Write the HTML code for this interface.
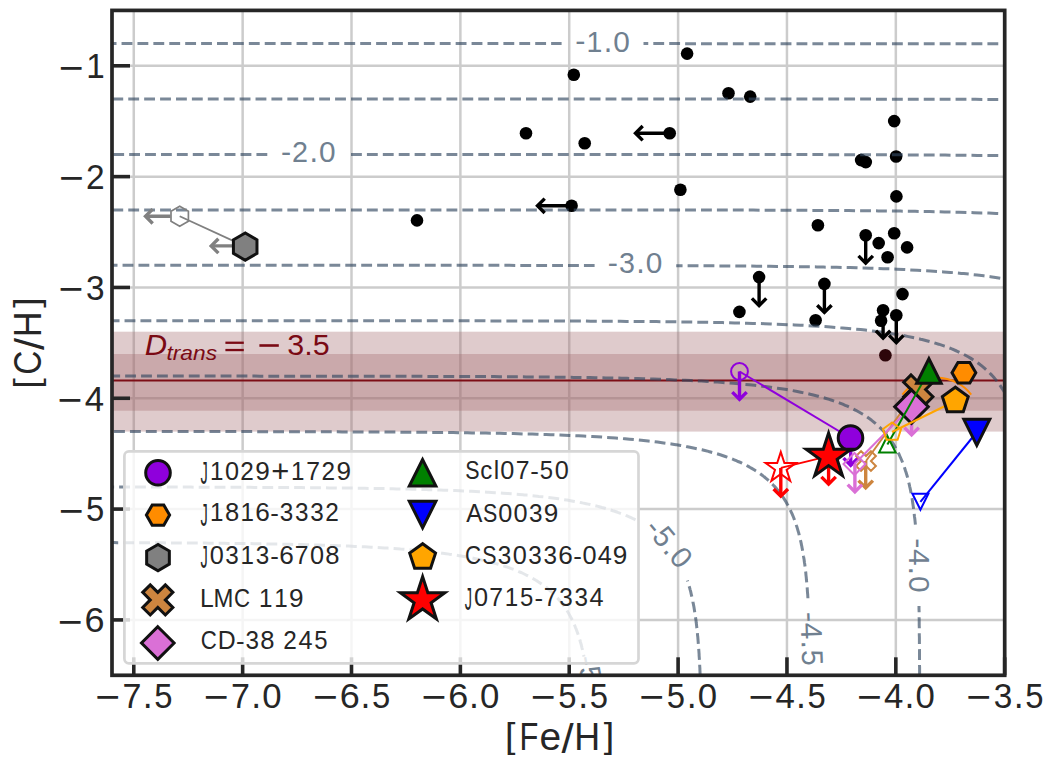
<!DOCTYPE html>
<html><head><meta charset="utf-8"><style>
html,body{margin:0;padding:0;background:#fff;width:1055px;height:757px;overflow:hidden}
text{font-family:"Liberation Sans",sans-serif;font-kerning:none}
</style></head><body>
<svg width="1055" height="757" viewBox="0 0 1055 757" style="display:block">
<rect x="0" y="0" width="1055" height="757" fill="#ffffff"/>
<defs><clipPath id="ax"><rect x="112" y="10.4" width="892.7" height="664.9"/></clipPath></defs>
<g clip-path="url(#ax)">
<line x1="133.77" y1="10.4" x2="133.77" y2="675.3" stroke="#cccccc" stroke-width="2.5"/>
<line x1="242.64" y1="10.4" x2="242.64" y2="675.3" stroke="#cccccc" stroke-width="2.5"/>
<line x1="351.5" y1="10.4" x2="351.5" y2="675.3" stroke="#cccccc" stroke-width="2.5"/>
<line x1="460.37" y1="10.4" x2="460.37" y2="675.3" stroke="#cccccc" stroke-width="2.5"/>
<line x1="569.23" y1="10.4" x2="569.23" y2="675.3" stroke="#cccccc" stroke-width="2.5"/>
<line x1="678.1" y1="10.4" x2="678.1" y2="675.3" stroke="#cccccc" stroke-width="2.5"/>
<line x1="786.96" y1="10.4" x2="786.96" y2="675.3" stroke="#cccccc" stroke-width="2.5"/>
<line x1="895.83" y1="10.4" x2="895.83" y2="675.3" stroke="#cccccc" stroke-width="2.5"/>
<line x1="1004.69" y1="10.4" x2="1004.69" y2="675.3" stroke="#cccccc" stroke-width="2.5"/>
<line x1="112" y1="65.81" x2="1004.7" y2="65.81" stroke="#cccccc" stroke-width="2.5"/>
<line x1="112" y1="176.63" x2="1004.7" y2="176.63" stroke="#cccccc" stroke-width="2.5"/>
<line x1="112" y1="287.45" x2="1004.7" y2="287.45" stroke="#cccccc" stroke-width="2.5"/>
<line x1="112" y1="398.27" x2="1004.7" y2="398.27" stroke="#cccccc" stroke-width="2.5"/>
<line x1="112" y1="509.09" x2="1004.7" y2="509.09" stroke="#cccccc" stroke-width="2.5"/>
<line x1="112" y1="619.91" x2="1004.7" y2="619.91" stroke="#cccccc" stroke-width="2.5"/>
<circle cx="687.1" cy="53.6" r="6.3" fill="#000"/>
<circle cx="573.8" cy="74.7" r="6.3" fill="#000"/>
<circle cx="728.5" cy="93.2" r="6.3" fill="#000"/>
<circle cx="750.2" cy="96.6" r="6.3" fill="#000"/>
<circle cx="526" cy="133.2" r="6.3" fill="#000"/>
<circle cx="584.7" cy="143.3" r="6.3" fill="#000"/>
<circle cx="669.7" cy="133.2" r="6.3" fill="#000"/>
<circle cx="680.4" cy="189.7" r="6.3" fill="#000"/>
<circle cx="571.6" cy="205.8" r="6.3" fill="#000"/>
<circle cx="417" cy="220.4" r="6.3" fill="#000"/>
<circle cx="894.2" cy="121.1" r="6.3" fill="#000"/>
<circle cx="896.1" cy="156.5" r="6.3" fill="#000"/>
<circle cx="861.1" cy="160.1" r="6.3" fill="#000"/>
<circle cx="865.8" cy="162.1" r="6.3" fill="#000"/>
<circle cx="896.4" cy="196.4" r="6.3" fill="#000"/>
<circle cx="817.9" cy="225.2" r="6.3" fill="#000"/>
<circle cx="865.7" cy="235.2" r="6.3" fill="#000"/>
<circle cx="878.7" cy="243.1" r="6.3" fill="#000"/>
<circle cx="894.2" cy="233.2" r="6.3" fill="#000"/>
<circle cx="907.1" cy="247.4" r="6.3" fill="#000"/>
<circle cx="887.6" cy="257.3" r="6.3" fill="#000"/>
<circle cx="824.4" cy="283.9" r="6.3" fill="#000"/>
<circle cx="902.5" cy="294.1" r="6.3" fill="#000"/>
<circle cx="759.1" cy="277.1" r="6.3" fill="#000"/>
<circle cx="739.4" cy="311.9" r="6.3" fill="#000"/>
<circle cx="815.6" cy="320.3" r="6.3" fill="#000"/>
<circle cx="883.1" cy="310.2" r="6.3" fill="#000"/>
<circle cx="881.1" cy="320.8" r="6.3" fill="#000"/>
<circle cx="896.3" cy="315.2" r="6.3" fill="#000"/>
<rect x="112" y="331.7" width="892.7" height="99.9" fill="rgb(164,106,109)" fill-opacity="0.35"/>
<rect x="112" y="354.0" width="892.7" height="56.7" fill="rgb(164,106,109)" fill-opacity="0.35"/>
<circle cx="885.4" cy="355.3" r="6.3" fill="rgb(45,6,10)"/>
<line x1="112" y1="380.5" x2="1004.7" y2="380.5" stroke="rgb(125,14,22)" stroke-width="2.1"/>
<path d="M68.5 43.6 L68.5 43.6 L77.9 43.6 L87.3 43.6 L96.7 43.6 L106.1 43.6 L115.5 43.6 L124.9 43.6 L134.3 43.6 L143.7 43.6 L153.1 43.6 L162.5 43.6 L171.9 43.6 L181.3 43.6 L190.7 43.6 L200.1 43.6 L209.5 43.6 L218.9 43.6 L228.3 43.6 L237.7 43.6 L247.1 43.6 L256.5 43.6 L265.9 43.6 L275.3 43.6 L284.7 43.6 L294.1 43.6 L303.5 43.6 L312.9 43.6 L322.3 43.6 L331.7 43.6 L341.1 43.6 L350.6 43.6 L360.0 43.6 L369.4 43.6 L378.8 43.6 L388.2 43.6 L397.6 43.6 L407.0 43.6 L416.4 43.6 L425.8 43.6 L435.2 43.6 L444.6 43.6 L454.0 43.6 L463.4 43.6 L472.8 43.6 L482.2 43.6 L491.6 43.6 L501.0 43.6 L510.4 43.6 L519.8 43.6 L529.2 43.6 L538.6 43.6 L548.0 43.6 L557.4 43.6 L561.6 43.6" fill="none" stroke="rgb(51,72,97)" stroke-opacity="0.65" stroke-width="3" stroke-dasharray="10.86 5.05" stroke-dashoffset="10.59"/>
<path d="M643.5 43.6 L651.5 43.6 L660.9 43.6 L670.3 43.6 L679.7 43.6 L689.1 43.7 L698.5 43.7 L707.9 43.7 L717.3 43.7 L726.7 43.7 L736.1 43.7 L745.5 43.7 L754.9 43.7 L764.3 43.7 L773.7 43.7 L783.1 43.7 L792.5 43.7 L801.9 43.7 L811.3 43.7 L820.7 43.7 L830.1 43.7 L839.5 43.7 L848.9 43.7 L858.3 43.7 L867.7 43.7 L877.1 43.7 L886.5 43.7 L895.9 43.7 L905.3 43.7 L914.7 43.7 L924.1 43.7 L933.5 43.7 L943.0 43.7 L952.4 43.7 L961.8 43.7 L971.2 43.7 L980.6 43.7 L990.0 43.7 L999.4 43.8 L1008.8 43.8 L1018.2 43.8 L1027.6 43.8 L1037.0 43.8 L1046.4 43.8 L1055.8 43.8 L1065.2 43.9 L1074.6 43.9 L1084.0 43.9 L1093.4 43.9 L1102.8 44.0 L1112.2 44.0 L1121.6 44.1 L1131.0 44.1 L1140.4 44.1 L1149.8 44.2 L1159.2 44.3 L1168.6 44.3 L1178.0 44.4 L1187.4 44.5 L1196.8 44.6 L1206.2 44.7 L1215.6 44.8 L1225.0 44.9 L1234.5 45.0 L1243.9 45.2 L1253.3 45.3 L1262.7 45.5 L1272.1 45.7 L1281.5 45.9 L1290.9 46.1 L1300.3 46.4 L1309.7 46.7 L1319.1 47.0 L1328.5 47.4 L1335.8 47.7 L1337.9 47.8 L1347.3 48.3 L1356.7 48.8 L1366.1 49.4 L1375.5 50.0 L1384.9 50.7 L1394.3 51.5 L1397.4 51.8 L1403.7 52.4 L1413.1 53.5 L1422.5 54.6 L1431.9 55.9 L1431.9 55.9 L1441.3 57.4 L1450.7 59.1 L1455.3 60.0 L1460.1 61.0 L1469.5 63.3 L1472.6 64.1 L1478.9 65.9 L1486.1 68.2 L1488.3 68.9 L1497.1 72.3 L1497.7 72.5 L1506.1 76.3 L1507.1 76.9 L1513.7 80.4 L1516.5 82.1 L1520.2 84.5 L1525.8 88.6 L1526.0 88.7 L1530.6 92.7 L1534.9 96.8 L1535.4 97.3 L1538.6 100.9 L1541.9 104.9 L1544.8 108.9 L1544.9 109.0 L1547.5 113.1 L1549.8 117.2 L1552.0 121.3 L1553.9 125.4 L1554.2 126.1 L1555.6 129.5 L1557.1 133.5 L1558.5 137.6 L1559.8 141.7 L1560.9 145.8 L1562.0 149.9 L1562.9 154.0 L1563.6 157.1 L1563.8 158.1 L1564.5 162.2 L1565.3 166.2 L1565.9 170.3 L1566.5 174.4 L1567.0 178.5 L1567.5 182.6 L1568.0 186.7 L1568.4 190.8 L1568.8 194.8 L1569.1 198.9 L1569.5 203.0 L1569.7 207.1 L1570.0 211.2 L1570.3 215.3 L1570.5 219.4 L1570.7 223.5 L1570.9 227.5 L1571.0 231.6 L1571.2 235.7 L1571.3 239.8 L1571.5 243.9 L1571.6 248.0 L1571.7 252.1 L1571.8 256.1 L1571.9 260.2 L1572.0 264.3 L1572.1 268.4 L1572.2 272.5 L1572.2 276.6 L1572.3 280.7 L1572.3 284.7 L1572.4 288.8 L1572.4 292.9 L1572.5 297.0 L1572.5 301.1 L1572.6 305.2 L1572.6 309.3 L1572.6 313.4 L1572.6 317.4 L1572.7 321.5 L1572.7 325.6 L1572.7 329.7 L1572.7 333.8 L1572.8 337.9 L1572.8 342.0 L1572.8 346.0 L1572.8 350.1 L1572.8 354.2 L1572.8 358.3 L1572.8 362.4 L1572.9 366.5 L1572.9 370.6 L1572.9 374.7 L1572.9 378.7 L1572.9 382.8 L1572.9 386.9 L1572.9 391.0 L1572.9 395.1 L1572.9 399.2 L1572.9 403.3 L1572.9 407.3 L1572.9 411.4 L1572.9 415.5 L1572.9 419.6 L1572.9 423.7 L1572.9 427.8 L1572.9 431.9 L1572.9 435.9 L1572.9 440.0 L1572.9 444.1 L1572.9 448.2 L1572.9 452.3 L1573.0 456.4 L1573.0 460.5 L1573.0 464.6 L1573.0 468.6 L1573.0 472.7 L1573.0 476.8 L1573.0 480.9 L1573.0 485.0 L1573.0 489.1 L1573.0 493.2 L1573.0 497.2 L1573.0 501.3 L1573.0 505.4 L1573.0 509.5 L1573.0 513.6 L1573.0 517.7 L1573.0 521.8 L1573.0 525.9 L1573.0 529.9 L1573.0 534.0 L1573.0 538.1 L1573.0 542.2 L1573.0 546.3 L1573.0 550.4 L1573.0 554.5 L1573.0 558.5 L1573.0 562.6 L1573.0 566.7 L1573.0 570.8 L1573.0 574.9 L1573.0 579.0 L1573.0 583.1 L1573.0 587.1 L1573.0 591.2 L1573.0 595.3 L1573.0 599.4 L1573.0 603.5 L1573.0 607.6 L1573.0 611.7 L1573.0 615.8 L1573.0 619.8 L1573.0 623.9 L1573.0 628.0 L1573.0 632.1 L1573.0 636.2 L1573.0 640.3 L1573.0 644.4 L1573.0 648.4 L1573.0 652.5 L1573.0 656.6 L1573.0 660.7 L1573.0 664.8 L1573.0 668.9 L1573.0 673.0 L1573.0 677.1 L1573.0 681.1 L1573.0 685.2 L1573.0 689.3 L1573.0 693.4 L1573.0 697.5" fill="none" stroke="rgb(51,72,97)" stroke-opacity="0.65" stroke-width="3" stroke-dasharray="10.86 5.05" stroke-dashoffset="6.11"/>
<path d="M68.5 99.1 L68.5 99.1 L77.2 99.1 L85.9 99.1 L94.6 99.1 L103.3 99.1 L112.1 99.1 L120.8 99.1 L129.5 99.1 L138.2 99.1 L147.0 99.1 L155.7 99.1 L164.4 99.1 L173.1 99.1 L181.9 99.1 L190.6 99.1 L199.3 99.1 L208.0 99.1 L216.7 99.1 L225.5 99.1 L234.2 99.1 L242.9 99.1 L251.6 99.1 L260.4 99.1 L269.1 99.1 L277.8 99.1 L286.5 99.1 L295.2 99.1 L304.0 99.1 L312.7 99.1 L321.4 99.1 L330.1 99.1 L338.9 99.1 L347.6 99.1 L356.3 99.1 L365.0 99.1 L373.8 99.1 L382.5 99.1 L391.2 99.1 L399.9 99.1 L408.6 99.1 L417.4 99.1 L426.1 99.1 L434.8 99.1 L443.5 99.1 L452.3 99.1 L461.0 99.1 L469.7 99.1 L478.4 99.1 L487.1 99.1 L495.9 99.1 L504.6 99.1 L513.3 99.1 L522.0 99.1 L530.8 99.1 L539.5 99.1 L548.2 99.1 L556.9 99.1 L565.7 99.1 L574.4 99.1 L583.1 99.1 L591.8 99.1 L600.5 99.1 L609.3 99.1 L618.0 99.1 L626.7 99.1 L635.4 99.1 L644.2 99.1 L652.9 99.1 L661.6 99.1 L670.3 99.1 L679.1 99.1 L687.8 99.1 L696.5 99.1 L705.2 99.1 L713.9 99.1 L722.7 99.1 L731.4 99.1 L740.1 99.1 L748.8 99.1 L757.6 99.1 L766.3 99.1 L775.0 99.1 L783.7 99.1 L792.4 99.1 L801.2 99.1 L809.9 99.1 L818.6 99.1 L827.3 99.1 L836.1 99.1 L844.8 99.1 L853.5 99.1 L862.2 99.1 L871.0 99.1 L879.7 99.2 L888.4 99.2 L897.1 99.2 L905.8 99.2 L914.6 99.2 L923.3 99.2 L932.0 99.2 L940.7 99.2 L949.5 99.3 L958.2 99.3 L966.9 99.3 L975.6 99.3 L984.3 99.4 L993.1 99.4 L1001.8 99.4 L1010.5 99.5 L1019.2 99.5 L1028.0 99.5 L1036.7 99.6 L1045.4 99.6 L1054.1 99.7 L1062.9 99.8 L1071.6 99.8 L1080.3 99.9 L1089.0 100.0 L1097.7 100.1 L1106.5 100.2 L1115.2 100.3 L1123.9 100.4 L1132.6 100.5 L1141.4 100.7 L1150.1 100.8 L1158.8 101.0 L1167.5 101.2 L1176.3 101.4 L1185.0 101.6 L1193.7 101.9 L1202.4 102.2 L1211.1 102.5 L1218.9 102.8 L1219.9 102.8 L1228.6 103.2 L1237.3 103.6 L1246.0 104.1 L1254.8 104.6 L1263.5 105.2 L1272.2 105.8 L1280.8 106.5 L1280.9 106.5 L1289.6 107.3 L1298.4 108.2 L1307.1 109.2 L1315.6 110.3 L1315.8 110.3 L1324.5 111.5 L1333.3 112.9 L1339.3 114.0 L1342.0 114.5 L1350.7 116.3 L1356.9 117.8 L1359.4 118.4 L1368.2 120.7 L1370.8 121.5 L1376.9 123.4 L1382.0 125.2 L1385.6 126.6 L1391.3 129.0 L1394.3 130.4 L1399.1 132.7 L1403.0 134.8 L1405.9 136.5 L1411.7 140.2 L1411.8 140.2 L1416.8 143.9 L1420.5 147.0 L1421.3 147.7 L1425.3 151.4 L1428.8 155.2 L1429.2 155.6 L1431.9 158.9 L1434.8 162.6 L1437.3 166.4 L1437.9 167.4 L1439.6 170.1 L1441.7 173.9 L1443.5 177.6 L1445.2 181.3 L1446.7 184.8 L1446.8 185.1 L1448.2 188.8 L1449.5 192.6 L1450.7 196.3 L1451.7 200.0 L1452.7 203.8 L1453.6 207.5 L1454.4 211.3 L1455.2 215.0 L1455.4 216.0 L1455.9 218.7 L1456.5 222.5 L1457.1 226.2 L1457.7 230.0 L1458.2 233.7 L1458.6 237.4 L1459.0 241.2 L1459.4 244.9 L1459.8 248.7 L1460.1 252.4 L1460.4 256.1 L1460.7 259.9 L1461.0 263.6 L1461.2 267.4 L1461.4 271.1 L1461.6 274.8 L1461.8 278.6 L1462.0 282.3 L1462.1 286.1 L1462.3 289.8 L1462.4 293.5 L1462.6 297.3 L1462.7 301.0 L1462.8 304.8 L1462.9 308.5 L1463.0 312.2 L1463.1 316.0 L1463.1 319.7 L1463.2 323.5 L1463.3 327.2 L1463.3 330.9 L1463.4 334.7 L1463.4 338.4 L1463.5 342.2 L1463.5 345.9 L1463.6 349.6 L1463.6 353.4 L1463.7 357.1 L1463.7 360.9 L1463.7 364.6 L1463.8 368.3 L1463.8 372.1 L1463.8 375.8 L1463.8 379.6 L1463.8 383.3 L1463.9 387.0 L1463.9 390.8 L1463.9 394.5 L1463.9 398.3 L1463.9 402.0 L1463.9 405.8 L1464.0 409.5 L1464.0 413.2 L1464.0 417.0 L1464.0 420.7 L1464.0 424.5 L1464.0 428.2 L1464.0 431.9 L1464.0 435.7 L1464.0 439.4 L1464.0 443.2 L1464.0 446.9 L1464.0 450.6 L1464.0 454.4 L1464.0 458.1 L1464.1 461.9 L1464.1 465.6 L1464.1 469.3 L1464.1 473.1 L1464.1 476.8 L1464.1 480.6 L1464.1 484.3 L1464.1 488.0 L1464.1 491.8 L1464.1 495.5 L1464.1 499.3 L1464.1 503.0 L1464.1 506.7 L1464.1 510.5 L1464.1 514.2 L1464.1 518.0 L1464.1 521.7 L1464.1 525.4 L1464.1 529.2 L1464.1 532.9 L1464.1 536.7 L1464.1 540.4 L1464.1 544.1 L1464.1 547.9 L1464.1 551.6 L1464.1 555.4 L1464.1 559.1 L1464.1 562.8 L1464.1 566.6 L1464.1 570.3 L1464.1 574.1 L1464.1 577.8 L1464.1 581.5 L1464.1 585.3 L1464.1 589.0 L1464.1 592.8 L1464.1 596.5 L1464.1 600.2 L1464.1 604.0 L1464.1 607.7 L1464.1 611.5 L1464.1 615.2 L1464.1 618.9 L1464.1 622.7 L1464.1 626.4 L1464.1 630.2 L1464.1 633.9 L1464.1 637.6 L1464.1 641.4 L1464.1 645.1 L1464.1 648.9 L1464.1 652.6 L1464.1 656.3 L1464.1 660.1 L1464.1 663.8 L1464.1 667.6 L1464.1 671.3 L1464.1 675.0 L1464.1 678.8 L1464.1 682.5 L1464.1 686.3 L1464.1 690.0 L1464.1 693.7 L1464.1 697.5 L1464.1 697.5" fill="none" stroke="rgb(51,72,97)" stroke-opacity="0.65" stroke-width="3" stroke-dasharray="10.86 5.05" stroke-dashoffset="3.89"/>
<path d="M68.5 154.5 L68.5 154.5 L76.5 154.5 L84.5 154.5 L92.6 154.5 L100.6 154.5 L108.7 154.5 L116.7 154.5 L124.8 154.5 L132.8 154.5 L140.8 154.5 L148.9 154.5 L156.9 154.5 L165.0 154.5 L173.0 154.5 L181.0 154.5 L189.1 154.5 L197.1 154.5 L205.2 154.5 L213.2 154.5 L221.3 154.5 L229.3 154.5 L237.3 154.5 L245.4 154.5 L253.4 154.5 L261.5 154.5 L267.4 154.5" fill="none" stroke="rgb(51,72,97)" stroke-opacity="0.65" stroke-width="3" stroke-dasharray="10.86 5.05" stroke-dashoffset="2.99"/>
<path d="M351.0 154.5 L358.0 154.5 L366.0 154.5 L374.1 154.5 L382.1 154.5 L390.1 154.5 L398.2 154.5 L406.2 154.5 L414.3 154.5 L422.3 154.5 L430.4 154.5 L438.4 154.5 L446.4 154.5 L454.5 154.5 L462.5 154.5 L470.6 154.5 L478.6 154.5 L486.7 154.5 L494.7 154.5 L502.7 154.5 L510.8 154.5 L518.8 154.5 L526.9 154.5 L534.9 154.5 L543.0 154.5 L551.0 154.5 L559.0 154.5 L567.1 154.5 L575.1 154.5 L583.2 154.5 L591.2 154.5 L599.3 154.5 L607.3 154.5 L615.3 154.5 L623.4 154.5 L631.4 154.5 L639.5 154.5 L647.5 154.5 L655.5 154.5 L663.6 154.5 L671.6 154.5 L679.7 154.5 L687.7 154.5 L695.8 154.5 L703.8 154.5 L711.8 154.5 L719.9 154.5 L727.9 154.5 L736.0 154.5 L744.0 154.5 L752.1 154.5 L760.1 154.6 L768.1 154.6 L776.2 154.6 L784.2 154.6 L792.3 154.6 L800.3 154.6 L808.4 154.6 L816.4 154.6 L824.4 154.6 L832.5 154.7 L840.5 154.7 L848.6 154.7 L856.6 154.7 L864.7 154.7 L872.7 154.8 L880.7 154.8 L888.8 154.8 L896.8 154.8 L904.9 154.9 L912.9 154.9 L920.9 155.0 L929.0 155.0 L937.0 155.0 L945.1 155.1 L953.1 155.2 L961.2 155.2 L969.2 155.3 L977.2 155.4 L985.3 155.4 L993.3 155.5 L1001.4 155.6 L1009.4 155.7 L1017.5 155.8 L1025.5 156.0 L1033.5 156.1 L1041.6 156.2 L1049.6 156.4 L1057.7 156.6 L1065.7 156.8 L1073.8 157.0 L1081.8 157.2 L1089.8 157.5 L1097.9 157.7 L1101.2 157.9 L1105.9 158.0 L1114.0 158.4 L1122.0 158.7 L1130.1 159.1 L1138.1 159.6 L1146.1 160.1 L1154.2 160.6 L1162.2 161.2 L1163.4 161.3 L1170.3 161.8 L1178.3 162.5 L1186.3 163.3 L1194.4 164.2 L1198.5 164.6 L1202.4 165.1 L1210.5 166.2 L1218.5 167.4 L1222.5 168.0 L1226.6 168.7 L1234.6 170.2 L1240.5 171.4 L1242.6 171.9 L1250.7 173.8 L1254.6 174.8 L1258.7 176.0 L1266.1 178.2 L1266.8 178.4 L1274.8 181.3 L1275.7 181.6 L1282.9 184.6 L1283.8 185.0 L1290.8 188.4 L1290.9 188.4 L1296.9 191.8 L1298.9 193.0 L1302.2 195.2 L1307.0 198.6 L1307.0 198.6 L1311.2 202.0 L1314.9 205.4 L1315.0 205.5 L1318.3 208.8 L1321.3 212.2 L1323.1 214.3 L1324.0 215.6 L1326.5 218.9 L1328.8 222.3 L1330.8 225.7 L1331.1 226.2 L1332.7 229.1 L1334.4 232.5 L1336.0 235.9 L1337.4 239.3 L1338.8 242.7 L1339.2 243.8 L1340.0 246.1 L1341.1 249.5 L1342.1 252.9 L1343.1 256.3 L1344.0 259.7 L1344.8 263.1 L1345.5 266.5 L1346.2 269.9 L1346.9 273.3 L1347.2 275.1 L1347.5 276.6 L1348.0 280.0 L1348.5 283.4 L1349.0 286.8 L1349.4 290.2 L1349.8 293.6 L1350.2 297.0 L1350.6 300.4 L1350.9 303.8 L1351.2 307.2 L1351.5 310.6 L1351.7 314.0 L1352.0 317.4 L1352.2 320.8 L1352.4 324.2 L1352.6 327.6 L1352.8 330.9 L1353.0 334.3 L1353.1 337.7 L1353.3 341.1 L1353.4 344.5 L1353.5 347.9 L1353.6 351.3 L1353.8 354.7 L1353.9 358.1 L1353.9 361.5 L1354.0 364.9 L1354.1 368.3 L1354.2 371.7 L1354.3 375.1 L1354.3 378.5 L1354.4 381.9 L1354.5 385.2 L1354.5 388.6 L1354.6 392.0 L1354.6 395.4 L1354.6 398.8 L1354.7 402.2 L1354.7 405.6 L1354.8 409.0 L1354.8 412.4 L1354.8 415.8 L1354.9 419.2 L1354.9 422.6 L1354.9 426.0 L1354.9 429.4 L1354.9 432.8 L1355.0 436.2 L1355.0 439.6 L1355.0 442.9 L1355.0 446.3 L1355.0 449.7 L1355.0 453.1 L1355.1 456.5 L1355.1 459.9 L1355.1 463.3 L1355.1 466.7 L1355.1 470.1 L1355.1 473.5 L1355.1 476.9 L1355.1 480.3 L1355.1 483.7 L1355.1 487.1 L1355.2 490.5 L1355.2 493.9 L1355.2 497.2 L1355.2 500.6 L1355.2 504.0 L1355.2 507.4 L1355.2 510.8 L1355.2 514.2 L1355.2 517.6 L1355.2 521.0 L1355.2 524.4 L1355.2 527.8 L1355.2 531.2 L1355.2 534.6 L1355.2 538.0 L1355.2 541.4 L1355.2 544.8 L1355.2 548.2 L1355.2 551.5 L1355.2 554.9 L1355.2 558.3 L1355.2 561.7 L1355.2 565.1 L1355.2 568.5 L1355.2 571.9 L1355.2 575.3 L1355.2 578.7 L1355.2 582.1 L1355.2 585.5 L1355.2 588.9 L1355.2 592.3 L1355.2 595.7 L1355.2 599.1 L1355.2 602.5 L1355.2 605.8 L1355.2 609.2 L1355.2 612.6 L1355.2 616.0 L1355.2 619.4 L1355.2 622.8 L1355.2 626.2 L1355.2 629.6 L1355.2 633.0 L1355.2 636.4 L1355.2 639.8 L1355.2 643.2 L1355.2 646.6 L1355.2 650.0 L1355.2 653.4 L1355.2 656.8 L1355.2 660.2 L1355.2 663.5 L1355.2 666.9 L1355.2 670.3 L1355.2 673.7 L1355.2 677.1 L1355.2 680.5 L1355.2 683.9 L1355.2 687.3 L1355.2 690.7 L1355.2 694.1 L1355.2 697.5" fill="none" stroke="rgb(51,72,97)" stroke-opacity="0.65" stroke-width="3" stroke-dasharray="10.86 5.05" stroke-dashoffset="15.91"/>
<path d="M68.5 209.9 L68.5 209.9 L75.8 209.9 L83.2 209.9 L90.5 209.9 L97.9 209.9 L105.3 209.9 L112.6 209.9 L120.0 209.9 L127.3 209.9 L134.7 209.9 L142.1 209.9 L149.4 209.9 L156.8 209.9 L164.2 209.9 L171.5 209.9 L178.9 209.9 L186.2 209.9 L193.6 209.9 L201.0 209.9 L208.3 209.9 L215.7 209.9 L223.1 209.9 L230.4 209.9 L237.8 209.9 L245.1 209.9 L252.5 209.9 L259.9 209.9 L267.2 209.9 L274.6 209.9 L282.0 209.9 L289.3 209.9 L296.7 209.9 L304.0 209.9 L311.4 209.9 L318.8 209.9 L326.1 209.9 L333.5 209.9 L340.8 209.9 L348.2 209.9 L355.6 209.9 L362.9 209.9 L370.3 209.9 L377.7 209.9 L385.0 209.9 L392.4 209.9 L399.7 209.9 L407.1 209.9 L414.5 209.9 L421.8 209.9 L429.2 209.9 L436.6 209.9 L443.9 209.9 L451.3 209.9 L458.6 209.9 L466.0 209.9 L473.4 209.9 L480.7 209.9 L488.1 209.9 L495.4 209.9 L502.8 209.9 L510.2 209.9 L517.5 209.9 L524.9 209.9 L532.3 209.9 L539.6 209.9 L547.0 209.9 L554.3 209.9 L561.7 209.9 L569.1 209.9 L576.4 209.9 L583.8 209.9 L591.2 209.9 L598.5 209.9 L605.9 209.9 L613.2 209.9 L620.6 209.9 L628.0 209.9 L635.3 210.0 L642.7 210.0 L650.0 210.0 L657.4 210.0 L664.8 210.0 L672.1 210.0 L679.5 210.0 L686.9 210.0 L694.2 210.0 L701.6 210.0 L708.9 210.0 L716.3 210.1 L723.7 210.1 L731.0 210.1 L738.4 210.1 L745.8 210.1 L753.1 210.1 L760.5 210.2 L767.8 210.2 L775.2 210.2 L782.6 210.2 L789.9 210.3 L797.3 210.3 L804.7 210.3 L812.0 210.4 L819.4 210.4 L826.7 210.4 L834.1 210.5 L841.5 210.5 L848.8 210.6 L856.2 210.7 L863.5 210.7 L870.9 210.8 L878.3 210.9 L885.6 210.9 L893.0 211.0 L900.4 211.1 L907.7 211.2 L915.1 211.3 L922.4 211.5 L929.8 211.6 L937.2 211.7 L944.5 211.9 L951.9 212.1 L959.3 212.2 L966.6 212.4 L974.0 212.7 L981.3 212.9 L982.5 212.9 L988.7 213.1 L996.1 213.4 L1003.4 213.7 L1010.8 214.0 L1018.1 214.4 L1025.5 214.8 L1032.9 215.2 L1040.2 215.6 L1045.1 216.0 L1047.6 216.1 L1055.0 216.7 L1062.3 217.3 L1069.7 217.9 L1077.0 218.7 L1080.5 219.0 L1084.4 219.4 L1091.8 220.3 L1099.1 221.3 L1104.8 222.1 L1106.5 222.3 L1113.9 223.5 L1121.2 224.8 L1123.0 225.1 L1128.6 226.2 L1135.9 227.8 L1137.5 228.2 L1143.3 229.6 L1149.3 231.2 L1150.7 231.6 L1158.0 233.9 L1159.1 234.3 L1165.4 236.5 L1167.5 237.3 L1172.7 239.4 L1174.8 240.4 L1180.1 242.9 L1181.1 243.4 L1186.7 246.4 L1187.5 246.9 L1191.7 249.5 L1194.8 251.6 L1196.1 252.5 L1200.1 255.6 L1202.2 257.3 L1203.7 258.6 L1207.0 261.7 L1209.6 264.3 L1209.9 264.7 L1212.6 267.8 L1215.1 270.8 L1216.9 273.3 L1217.3 273.9 L1219.4 276.9 L1221.3 280.0 L1223.0 283.0 L1224.3 285.4 L1224.6 286.1 L1226.1 289.1 L1227.5 292.2 L1228.8 295.2 L1230.0 298.3 L1231.0 301.3 L1231.6 303.1 L1232.1 304.4 L1233.0 307.4 L1233.9 310.4 L1234.7 313.5 L1235.5 316.5 L1236.2 319.6 L1236.8 322.6 L1237.4 325.7 L1238.0 328.7 L1238.5 331.8 L1239.0 334.6 L1239.0 334.8 L1239.5 337.9 L1239.9 340.9 L1240.4 344.0 L1240.7 347.0 L1241.1 350.1 L1241.4 353.1 L1241.7 356.2 L1242.0 359.2 L1242.3 362.3 L1242.6 365.3 L1242.8 368.3 L1243.0 371.4 L1243.2 374.4 L1243.4 377.5 L1243.6 380.5 L1243.8 383.6 L1243.9 386.6 L1244.1 389.7 L1244.2 392.7 L1244.4 395.8 L1244.5 398.8 L1244.6 401.9 L1244.7 404.9 L1244.8 408.0 L1244.9 411.0 L1245.0 414.1 L1245.1 417.1 L1245.2 420.2 L1245.2 423.2 L1245.3 426.3 L1245.4 429.3 L1245.4 432.3 L1245.5 435.4 L1245.6 438.4 L1245.6 441.5 L1245.6 444.5 L1245.7 447.6 L1245.7 450.6 L1245.8 453.7 L1245.8 456.7 L1245.8 459.8 L1245.9 462.8 L1245.9 465.9 L1245.9 468.9 L1246.0 472.0 L1246.0 475.0 L1246.0 478.1 L1246.0 481.1 L1246.1 484.2 L1246.1 487.2 L1246.1 490.3 L1246.1 493.3 L1246.1 496.3 L1246.1 499.4 L1246.2 502.4 L1246.2 505.5 L1246.2 508.5 L1246.2 511.6 L1246.2 514.6 L1246.2 517.7 L1246.2 520.7 L1246.2 523.8 L1246.2 526.8 L1246.3 529.9 L1246.3 532.9 L1246.3 536.0 L1246.3 539.0 L1246.3 542.1 L1246.3 545.1 L1246.3 548.2 L1246.3 551.2 L1246.3 554.2 L1246.3 557.3 L1246.3 560.3 L1246.3 563.4 L1246.3 566.4 L1246.3 569.5 L1246.3 572.5 L1246.3 575.6 L1246.3 578.6 L1246.3 581.7 L1246.3 584.7 L1246.3 587.8 L1246.3 590.8 L1246.3 593.9 L1246.3 596.9 L1246.3 600.0 L1246.3 603.0 L1246.3 606.1 L1246.3 609.1 L1246.4 612.2 L1246.4 615.2 L1246.4 618.2 L1246.4 621.3 L1246.4 624.3 L1246.4 627.4 L1246.4 630.4 L1246.4 633.5 L1246.4 636.5 L1246.4 639.6 L1246.4 642.6 L1246.4 645.7 L1246.4 648.7 L1246.4 651.8 L1246.4 654.8 L1246.4 657.9 L1246.4 660.9 L1246.4 664.0 L1246.4 667.0 L1246.4 670.1 L1246.4 673.1 L1246.4 676.2 L1246.4 679.2 L1246.4 682.2 L1246.4 685.3 L1246.4 688.3 L1246.4 691.4 L1246.4 694.4 L1246.4 697.5" fill="none" stroke="rgb(51,72,97)" stroke-opacity="0.65" stroke-width="3" stroke-dasharray="10.86 5.05" stroke-dashoffset="3.89"/>
<path d="M68.5 265.3 L68.5 265.3 L75.1 265.3 L81.8 265.3 L88.5 265.3 L95.2 265.3 L101.9 265.3 L108.5 265.3 L115.2 265.3 L121.9 265.3 L128.6 265.3 L135.3 265.3 L142.0 265.3 L148.6 265.3 L155.3 265.3 L162.0 265.3 L168.7 265.3 L175.4 265.3 L182.0 265.3 L188.7 265.3 L195.4 265.3 L202.1 265.3 L208.8 265.3 L215.4 265.3 L222.1 265.3 L228.8 265.3 L235.5 265.3 L242.2 265.3 L248.9 265.3 L255.5 265.3 L262.2 265.3 L268.9 265.3 L275.6 265.3 L282.3 265.3 L288.9 265.3 L295.6 265.3 L302.3 265.3 L309.0 265.3 L315.7 265.3 L322.4 265.3 L329.0 265.3 L335.7 265.3 L342.4 265.3 L349.1 265.3 L355.8 265.3 L362.4 265.3 L369.1 265.3 L375.8 265.3 L382.5 265.3 L389.2 265.3 L395.8 265.3 L402.5 265.3 L409.2 265.3 L415.9 265.3 L422.6 265.3 L429.3 265.3 L435.9 265.3 L442.6 265.3 L449.3 265.3 L456.0 265.3 L462.7 265.3 L469.3 265.3 L476.0 265.3 L482.7 265.3 L489.4 265.3 L496.1 265.3 L502.8 265.3 L509.4 265.3 L516.1 265.4 L522.8 265.4 L529.5 265.4 L536.2 265.4 L542.8 265.4 L549.5 265.4 L556.2 265.4 L562.9 265.4 L569.6 265.4 L576.2 265.4 L582.9 265.4 L589.6 265.4 L594.6 265.4" fill="none" stroke="rgb(51,72,97)" stroke-opacity="0.65" stroke-width="3" stroke-dasharray="10.86 5.05" stroke-dashoffset="9.59"/>
<path d="M676.2 265.7 L676.5 265.7 L683.2 265.7 L689.8 265.7 L696.5 265.7 L703.2 265.8 L709.9 265.8 L716.6 265.9 L723.2 265.9 L729.9 265.9 L736.6 266.0 L743.3 266.0 L750.0 266.1 L756.7 266.2 L763.3 266.2 L770.0 266.3 L776.7 266.4 L783.4 266.4 L790.1 266.5 L796.7 266.6 L803.4 266.7 L810.1 266.8 L816.8 266.9 L823.5 267.1 L830.1 267.2 L836.8 267.3 L843.5 267.5 L850.2 267.6 L856.9 267.8 L862.5 268.0 L863.6 268.0 L870.2 268.2 L876.9 268.4 L883.6 268.7 L890.3 268.9 L897.0 269.2 L903.6 269.5 L910.3 269.9 L917.0 270.2 L923.7 270.6 L925.5 270.7 L930.4 271.0 L937.1 271.4 L943.7 271.9 L950.4 272.4 L957.1 273.0 L961.2 273.4 L963.8 273.6 L970.5 274.3 L977.1 275.0 L983.8 275.8 L985.8 276.1 L990.5 276.7 L997.2 277.7 L1003.9 278.7 L1004.4 278.8 L1010.5 279.9 L1017.2 281.1 L1019.1 281.5 L1023.9 282.5 L1030.6 284.0 L1031.2 284.2 L1037.3 285.8 L1041.4 286.9 L1044.0 287.7 L1050.1 289.6 L1050.6 289.8 L1057.3 292.2 L1057.6 292.3 L1064.0 294.9 L1064.2 295.0 L1070.1 297.7 L1070.7 298.0 L1075.3 300.4 L1077.4 301.6 L1080.0 303.1 L1084.0 305.7 L1084.2 305.8 L1088.0 308.5 L1090.7 310.6 L1091.5 311.2 L1094.7 313.9 L1097.4 316.4 L1097.6 316.6 L1100.3 319.3 L1102.7 322.0 L1104.1 323.6 L1105.0 324.7 L1107.1 327.4 L1109.0 330.1 L1110.8 332.7 L1110.8 332.8 L1112.5 335.5 L1114.0 338.2 L1115.5 340.9 L1116.8 343.6 L1117.5 344.9 L1118.1 346.3 L1119.3 349.0 L1120.3 351.7 L1121.4 354.4 L1122.3 357.1 L1123.2 359.8 L1124.1 362.5 L1124.1 362.8 L1124.8 365.2 L1125.6 367.9 L1126.3 370.6 L1126.9 373.3 L1127.5 376.0 L1128.1 378.7 L1128.6 381.4 L1129.1 384.1 L1129.6 386.8 L1130.1 389.5 L1130.5 392.2 L1130.8 394.4 L1130.9 394.9 L1131.3 397.6 L1131.6 400.3 L1131.9 403.0 L1132.3 405.8 L1132.6 408.5 L1132.8 411.2 L1133.1 413.9 L1133.3 416.6 L1133.6 419.3 L1133.8 422.0 L1134.0 424.7 L1134.2 427.4 L1134.4 430.1 L1134.5 432.8 L1134.7 435.5 L1134.9 438.2 L1135.0 440.9 L1135.2 443.6 L1135.3 446.3 L1135.4 449.0 L1135.5 451.7 L1135.6 454.4 L1135.7 457.1 L1135.8 459.8 L1135.9 462.5 L1136.0 465.2 L1136.1 467.9 L1136.2 470.6 L1136.2 473.3 L1136.3 476.0 L1136.4 478.7 L1136.4 481.4 L1136.5 484.1 L1136.6 486.8 L1136.6 489.5 L1136.7 492.2 L1136.7 494.9 L1136.7 497.6 L1136.8 500.3 L1136.8 503.0 L1136.9 505.7 L1136.9 508.4 L1136.9 511.1 L1137.0 513.8 L1137.0 516.5 L1137.0 519.2 L1137.1 521.9 L1137.1 524.6 L1137.1 527.3 L1137.1 530.0 L1137.1 532.7 L1137.2 535.4 L1137.2 538.1 L1137.2 540.8 L1137.2 543.5 L1137.2 546.2 L1137.2 548.9 L1137.3 551.6 L1137.3 554.3 L1137.3 557.0 L1137.3 559.7 L1137.3 562.4 L1137.3 565.1 L1137.3 567.8 L1137.3 570.5 L1137.4 573.2 L1137.4 575.9 L1137.4 578.6 L1137.4 581.3 L1137.4 584.0 L1137.4 586.7 L1137.4 589.4 L1137.4 592.1 L1137.4 594.8 L1137.4 597.5 L1137.4 600.2 L1137.4 602.9 L1137.4 605.6 L1137.4 608.3 L1137.4 611.0 L1137.4 613.7 L1137.4 616.4 L1137.4 619.1 L1137.5 621.8 L1137.5 624.6 L1137.5 627.3 L1137.5 630.0 L1137.5 632.7 L1137.5 635.4 L1137.5 638.1 L1137.5 640.8 L1137.5 643.5 L1137.5 646.2 L1137.5 648.9 L1137.5 651.6 L1137.5 654.3 L1137.5 657.0 L1137.5 659.7 L1137.5 662.4 L1137.5 665.1 L1137.5 667.8 L1137.5 670.5 L1137.5 673.2 L1137.5 675.9 L1137.5 678.6 L1137.5 681.3 L1137.5 684.0 L1137.5 686.7 L1137.5 689.4 L1137.5 692.1 L1137.5 694.8 L1137.5 697.5 L1137.5 697.5" fill="none" stroke="rgb(51,72,97)" stroke-opacity="0.65" stroke-width="3" stroke-dasharray="10.86 5.05" stroke-dashoffset="4.51"/>
<path d="M68.5 320.7 L68.5 320.7 L74.5 320.7 L80.5 320.7 L86.5 320.7 L92.5 320.7 L98.5 320.7 L104.5 320.7 L110.5 320.7 L116.5 320.7 L122.5 320.7 L128.5 320.7 L134.5 320.7 L140.5 320.7 L146.5 320.7 L152.5 320.7 L158.5 320.7 L164.5 320.7 L170.5 320.7 L176.5 320.7 L182.5 320.7 L188.5 320.7 L194.5 320.7 L200.5 320.7 L206.5 320.7 L212.5 320.7 L218.5 320.7 L224.5 320.7 L230.5 320.7 L236.5 320.7 L242.5 320.7 L248.5 320.7 L254.5 320.7 L260.5 320.7 L266.5 320.7 L272.5 320.7 L278.5 320.7 L284.5 320.7 L290.5 320.7 L296.5 320.7 L302.5 320.7 L308.5 320.7 L314.5 320.7 L320.5 320.7 L326.5 320.7 L332.5 320.7 L338.5 320.7 L344.5 320.7 L350.5 320.7 L356.5 320.7 L362.5 320.7 L368.5 320.7 L374.5 320.7 L380.5 320.7 L386.5 320.8 L392.5 320.8 L398.5 320.8 L404.5 320.8 L410.5 320.8 L416.5 320.8 L422.5 320.8 L428.5 320.8 L434.5 320.8 L440.5 320.8 L446.5 320.8 L452.5 320.8 L458.5 320.8 L464.5 320.8 L470.5 320.8 L476.5 320.8 L482.5 320.8 L488.5 320.9 L494.5 320.9 L500.5 320.9 L506.5 320.9 L512.5 320.9 L518.5 320.9 L524.5 320.9 L530.5 320.9 L536.5 321.0 L542.5 321.0 L548.5 321.0 L554.5 321.0 L560.5 321.0 L566.5 321.1 L572.5 321.1 L578.5 321.1 L584.5 321.1 L590.5 321.2 L596.5 321.2 L602.5 321.2 L608.5 321.3 L614.5 321.3 L620.5 321.3 L626.5 321.4 L632.5 321.4 L638.5 321.5 L644.5 321.5 L650.5 321.6 L656.5 321.6 L662.5 321.7 L668.5 321.8 L674.5 321.8 L680.6 321.9 L686.6 322.0 L692.6 322.1 L698.6 322.2 L704.6 322.3 L710.6 322.4 L716.6 322.5 L722.6 322.6 L728.6 322.8 L734.6 322.9 L740.6 323.0 L741.1 323.1 L746.6 323.2 L752.6 323.4 L758.6 323.5 L764.6 323.7 L770.6 323.9 L776.6 324.2 L782.6 324.4 L788.6 324.7 L794.6 324.9 L800.6 325.2 L804.3 325.4 L806.6 325.5 L812.6 325.9 L818.6 326.2 L824.6 326.6 L830.6 327.0 L836.6 327.5 L840.4 327.8 L842.6 327.9 L848.6 328.5 L854.6 329.0 L860.6 329.6 L865.3 330.1 L866.6 330.3 L872.6 331.0 L878.6 331.7 L884.2 332.5 L884.6 332.5 L890.6 333.4 L896.6 334.4 L899.2 334.8 L902.6 335.4 L908.6 336.6 L911.6 337.2 L914.6 337.8 L920.6 339.2 L922.1 339.5 L926.6 340.7 L931.0 341.9 L932.6 342.3 L938.6 344.2 L938.9 344.2 L944.6 346.2 L945.8 346.6 L950.6 348.4 L951.9 349.0 L956.6 351.0 L957.4 351.3 L962.3 353.7 L962.6 353.8 L966.8 356.0 L968.6 357.0 L970.9 358.4 L974.6 360.7 L974.6 360.7 L978.0 363.1 L980.6 365.0 L981.2 365.4 L984.1 367.8 L986.6 370.0 L986.8 370.2 L989.2 372.5 L991.5 374.9 L992.6 376.0 L993.7 377.2 L995.7 379.6 L997.6 381.9 L998.6 383.3 L999.3 384.3 L1000.9 386.6 L1002.4 389.0 L1003.9 391.3 L1004.6 392.6 L1005.2 393.7 L1006.5 396.1 L1007.7 398.4 L1008.8 400.8 L1009.8 403.1 L1010.6 404.9 L1010.8 405.5 L1011.8 407.8 L1012.6 410.2 L1013.5 412.5 L1014.2 414.9 L1015.0 417.2 L1015.7 419.6 L1016.3 422.0 L1016.6 422.9 L1017.0 424.3 L1017.6 426.7 L1018.1 429.0 L1018.7 431.4 L1019.2 433.7 L1019.6 436.1 L1020.1 438.4 L1020.5 440.8 L1020.9 443.2 L1021.3 445.5 L1021.7 447.9 L1022.0 450.2 L1022.3 452.6 L1022.6 454.6 L1022.6 454.9 L1022.9 457.3 L1023.2 459.6 L1023.5 462.0 L1023.7 464.3 L1024.0 466.7 L1024.2 469.1 L1024.4 471.4 L1024.6 473.8 L1024.8 476.1 L1025.0 478.5 L1025.2 480.8 L1025.4 483.2 L1025.5 485.5 L1025.7 487.9 L1025.8 490.3 L1025.9 492.6 L1026.1 495.0 L1026.2 497.3 L1026.3 499.7 L1026.4 502.0 L1026.5 504.4 L1026.6 506.7 L1026.7 509.1 L1026.8 511.4 L1026.9 513.8 L1027.0 516.2 L1027.1 518.5 L1027.2 520.9 L1027.2 523.2 L1027.3 525.6 L1027.4 527.9 L1027.4 530.3 L1027.5 532.6 L1027.5 535.0 L1027.6 537.3 L1027.6 539.7 L1027.7 542.1 L1027.7 544.4 L1027.8 546.8 L1027.8 549.1 L1027.9 551.5 L1027.9 553.8 L1027.9 556.2 L1028.0 558.5 L1028.0 560.9 L1028.0 563.3 L1028.1 565.6 L1028.1 568.0 L1028.1 570.3 L1028.1 572.7 L1028.2 575.0 L1028.2 577.4 L1028.2 579.7 L1028.2 582.1 L1028.2 584.4 L1028.3 586.8 L1028.3 589.2 L1028.3 591.5 L1028.3 593.9 L1028.3 596.2 L1028.3 598.6 L1028.4 600.9 L1028.4 603.3 L1028.4 605.6 L1028.4 608.0 L1028.4 610.4 L1028.4 612.7 L1028.4 615.1 L1028.4 617.4 L1028.5 619.8 L1028.5 622.1 L1028.5 624.5 L1028.5 626.8 L1028.5 629.2 L1028.5 631.5 L1028.5 633.9 L1028.5 636.3 L1028.5 638.6 L1028.5 641.0 L1028.5 643.3 L1028.5 645.7 L1028.5 648.0 L1028.5 650.4 L1028.5 652.7 L1028.6 655.1 L1028.6 657.5 L1028.6 659.8 L1028.6 662.2 L1028.6 664.5 L1028.6 666.9 L1028.6 669.2 L1028.6 671.6 L1028.6 673.9 L1028.6 676.3 L1028.6 678.6 L1028.6 681.0 L1028.6 683.4 L1028.6 685.7 L1028.6 688.1 L1028.6 690.4 L1028.6 692.8 L1028.6 695.1 L1028.6 697.5" fill="none" stroke="rgb(51,72,97)" stroke-opacity="0.65" stroke-width="3" stroke-dasharray="10.86 5.05" stroke-dashoffset="7.59"/>
<path d="M68.5 376.1 L68.5 376.1 L73.8 376.1 L79.1 376.1 L84.4 376.1 L89.7 376.1 L95.1 376.1 L100.4 376.1 L105.7 376.1 L111.0 376.1 L116.3 376.1 L121.7 376.1 L127.0 376.1 L132.3 376.1 L137.6 376.1 L142.9 376.1 L148.3 376.1 L153.6 376.1 L158.9 376.1 L164.2 376.1 L169.5 376.1 L174.9 376.1 L180.2 376.1 L185.5 376.1 L190.8 376.1 L196.1 376.1 L201.5 376.1 L206.8 376.1 L212.1 376.1 L217.4 376.1 L222.7 376.1 L228.1 376.1 L233.4 376.1 L238.7 376.1 L244.0 376.1 L249.3 376.1 L254.7 376.1 L260.0 376.2 L265.3 376.2 L270.6 376.2 L275.9 376.2 L281.3 376.2 L286.6 376.2 L291.9 376.2 L297.2 376.2 L302.5 376.2 L307.9 376.2 L313.2 376.2 L318.5 376.2 L323.8 376.2 L329.1 376.2 L334.5 376.2 L339.8 376.2 L345.1 376.2 L350.4 376.2 L355.7 376.2 L361.1 376.2 L366.4 376.2 L371.7 376.3 L377.0 376.3 L382.3 376.3 L387.7 376.3 L393.0 376.3 L398.3 376.3 L403.6 376.3 L408.9 376.3 L414.3 376.3 L419.6 376.3 L424.9 376.4 L430.2 376.4 L435.5 376.4 L440.9 376.4 L446.2 376.4 L451.5 376.4 L456.8 376.5 L462.1 376.5 L467.5 376.5 L472.8 376.5 L478.1 376.6 L483.4 376.6 L488.7 376.6 L494.1 376.6 L499.4 376.7 L504.7 376.7 L510.0 376.7 L515.3 376.8 L520.7 376.8 L526.0 376.9 L531.3 376.9 L536.6 377.0 L541.9 377.0 L547.3 377.1 L552.6 377.1 L557.9 377.2 L563.2 377.2 L568.5 377.3 L573.9 377.4 L579.2 377.4 L584.5 377.5 L589.8 377.6 L595.1 377.7 L600.5 377.8 L605.8 377.9 L611.1 378.0 L616.4 378.1 L617.7 378.1 L621.7 378.2 L627.1 378.3 L632.4 378.5 L637.7 378.6 L643.0 378.8 L648.3 378.9 L653.7 379.1 L659.0 379.3 L664.3 379.4 L669.6 379.6 L674.9 379.9 L680.3 380.1 L681.2 380.1 L685.6 380.3 L690.9 380.6 L696.2 380.9 L701.5 381.1 L706.9 381.5 L712.2 381.8 L717.5 382.1 L717.5 382.1 L722.8 382.5 L728.1 382.9 L733.5 383.3 L738.8 383.8 L742.8 384.1 L744.1 384.3 L749.4 384.8 L754.7 385.3 L760.1 385.9 L762.0 386.2 L765.4 386.6 L770.7 387.2 L776.0 388.0 L777.3 388.2 L781.3 388.8 L786.7 389.6 L790.0 390.2 L792.0 390.5 L797.3 391.5 L800.7 392.2 L802.6 392.6 L807.9 393.7 L810.0 394.2 L813.3 395.0 L818.1 396.2 L818.6 396.3 L823.9 397.8 L825.3 398.2 L829.2 399.4 L831.7 400.2 L834.5 401.2 L837.5 402.2 L839.9 403.1 L842.7 404.2 L845.2 405.3 L847.4 406.2 L850.5 407.6 L851.8 408.2 L855.8 410.3 L855.8 410.3 L859.4 412.3 L861.1 413.3 L862.8 414.3 L866.0 416.3 L866.5 416.6 L868.9 418.3 L871.6 420.3 L871.8 420.4 L874.1 422.3 L876.5 424.3 L877.1 424.8 L878.7 426.3 L880.8 428.3 L882.4 430.0 L882.7 430.3 L884.6 432.4 L886.3 434.4 L887.7 436.1 L887.9 436.4 L889.5 438.4 L890.9 440.4 L892.3 442.4 L893.1 443.6 L893.6 444.4 L894.8 446.4 L896.0 448.4 L897.1 450.4 L898.1 452.4 L898.4 453.0 L899.1 454.4 L900.0 456.5 L900.9 458.5 L901.8 460.5 L902.6 462.5 L903.4 464.5 L903.7 465.4 L904.1 466.5 L904.8 468.5 L905.4 470.5 L906.1 472.5 L906.7 474.5 L907.3 476.5 L907.8 478.5 L908.3 480.6 L908.8 482.6 L909.0 483.4 L909.3 484.6 L909.7 486.6 L910.2 488.6 L910.6 490.6 L911.0 492.6 L911.4 494.6 L911.7 496.6 L912.1 498.6 L912.4 500.6 L912.7 502.7 L913.0 504.7 L913.3 506.7 L913.6 508.7 L913.8 510.7 L914.1 512.7 L914.3 514.7 L914.3 514.9 L914.5 516.7 L914.8 518.7 L915.0 520.7 L915.2 522.7 L915.4 524.7 L915.4 524.8" fill="none" stroke="rgb(51,72,97)" stroke-opacity="0.65" stroke-width="3" stroke-dasharray="10.86 5.05" stroke-dashoffset="6.99"/>
<path d="M919.0 606.0 L919.0 607.1 L919.0 609.1 L919.1 611.1 L919.1 613.1 L919.1 615.1 L919.1 617.1 L919.2 619.1 L919.2 621.2 L919.2 623.2 L919.2 625.2 L919.3 627.2 L919.3 629.2 L919.3 631.2 L919.3 633.2 L919.3 635.2 L919.4 637.2 L919.4 639.2 L919.4 641.2 L919.4 643.3 L919.4 645.3 L919.4 647.3 L919.5 649.3 L919.5 651.3 L919.5 653.3 L919.5 655.3 L919.5 657.3 L919.5 659.3 L919.5 661.3 L919.5 663.3 L919.5 665.3 L919.6 667.4 L919.6 669.4 L919.6 671.4 L919.6 673.4 L919.6 675.4 L919.6 677.4 L919.6 679.4 L919.6 681.4 L919.6 683.4 L919.6 685.4 L919.6 687.4 L919.6 689.4 L919.6 691.5 L919.6 693.5 L919.7 695.5 L919.7 697.5" fill="none" stroke="rgb(51,72,97)" stroke-opacity="0.65" stroke-width="3" stroke-dasharray="10.86 5.05" stroke-dashoffset="4.61"/>
<path d="M68.5 431.5 L68.5 431.5 L73.1 431.5 L77.7 431.5 L82.4 431.5 L87.0 431.5 L91.6 431.5 L96.3 431.5 L100.9 431.5 L105.6 431.5 L110.2 431.5 L114.8 431.5 L119.5 431.5 L124.1 431.5 L128.7 431.6 L133.4 431.6 L138.0 431.6 L142.7 431.6 L147.3 431.6 L151.9 431.6 L156.6 431.6 L161.2 431.6 L165.9 431.6 L170.5 431.6 L175.1 431.6 L179.8 431.6 L184.4 431.6 L189.0 431.6 L193.7 431.6 L198.3 431.6 L203.0 431.6 L207.6 431.6 L212.2 431.6 L216.9 431.6 L221.5 431.6 L226.1 431.6 L230.8 431.6 L235.4 431.6 L240.1 431.6 L244.7 431.6 L249.3 431.6 L254.0 431.6 L258.6 431.7 L263.3 431.7 L267.9 431.7 L272.5 431.7 L277.2 431.7 L281.8 431.7 L286.4 431.7 L291.1 431.7 L295.7 431.7 L300.4 431.7 L305.0 431.7 L309.6 431.8 L314.3 431.8 L318.9 431.8 L323.5 431.8 L328.2 431.8 L332.8 431.8 L337.5 431.8 L342.1 431.9 L346.7 431.9 L351.4 431.9 L356.0 431.9 L360.6 431.9 L365.3 432.0 L369.9 432.0 L374.6 432.0 L379.2 432.0 L383.8 432.0 L388.5 432.1 L393.1 432.1 L397.8 432.1 L402.4 432.2 L407.0 432.2 L411.7 432.2 L416.3 432.3 L420.9 432.3 L425.6 432.3 L430.2 432.4 L434.9 432.4 L439.5 432.5 L444.1 432.5 L448.8 432.6 L453.4 432.6 L458.0 432.7 L462.7 432.7 L467.3 432.8 L472.0 432.9 L476.6 432.9 L481.2 433.0 L485.9 433.1 L490.5 433.2 L492.1 433.2 L495.2 433.3 L499.8 433.3 L504.4 433.4 L509.1 433.5 L513.7 433.6 L518.3 433.7 L523.0 433.9 L527.6 434.0 L532.3 434.1 L536.9 434.2 L541.5 434.4 L546.2 434.5 L550.8 434.7 L555.4 434.9 L555.5 434.9 L560.1 435.0 L564.7 435.2 L569.4 435.4 L574.0 435.6 L578.6 435.8 L583.3 436.1 L587.9 436.3 L592.0 436.5 L592.5 436.6 L597.2 436.8 L601.8 437.1 L606.5 437.4 L611.1 437.7 L615.7 438.0 L617.5 438.2 L620.4 438.4 L625.0 438.8 L629.7 439.2 L634.3 439.6 L637.0 439.8 L638.9 440.0 L643.6 440.5 L648.2 441.0 L652.6 441.5 L652.8 441.5 L657.5 442.1 L662.1 442.7 L665.6 443.2 L666.8 443.3 L671.4 444.0 L676.0 444.7 L676.6 444.8 L680.7 445.5 L685.3 446.3 L686.2 446.5 L689.9 447.2 L694.6 448.2 L694.6 448.2 L699.2 449.2 L702.1 449.8 L703.9 450.2 L708.5 451.4 L708.8 451.5 L713.1 452.7 L714.8 453.1 L717.8 454.0 L720.3 454.8 L722.4 455.5 L725.3 456.5 L727.1 457.1 L729.9 458.1 L731.7 458.8 L734.2 459.8 L736.3 460.7 L738.1 461.5 L741.0 462.7 L741.8 463.1 L745.2 464.8 L745.6 465.0 L748.3 466.4 L750.2 467.5 L751.3 468.1 L754.1 469.8 L754.9 470.3 L756.7 471.4 L759.2 473.1 L759.5 473.3 L761.5 474.8 L763.6 476.4 L764.2 476.8 L765.7 478.1 L767.6 479.7 L768.8 480.8 L769.5 481.4 L771.2 483.1 L772.9 484.7 L773.4 485.3 L774.5 486.4 L776.0 488.0 L777.4 489.7 L778.1 490.5 L778.8 491.4 L780.0 493.0 L781.3 494.7 L782.4 496.4 L782.7 496.7 L783.6 498.0 L784.6 499.7 L785.7 501.3 L786.6 503.0 L787.3 504.3 L787.6 504.7 L788.5 506.3 L789.3 508.0 L790.1 509.7 L790.9 511.3 L791.7 513.0 L792.0 513.7 L792.4 514.6 L793.1 516.3 L793.8 518.0 L794.4 519.6 L795.0 521.3 L795.6 523.0 L796.2 524.6 L796.6 526.0 L796.7 526.3 L797.2 527.9 L797.7 529.6 L798.2 531.3 L798.7 532.9 L799.1 534.6 L799.5 536.3 L799.9 537.9 L800.3 539.6 L800.7 541.2 L801.1 542.9 L801.3 543.8 L801.4 544.6 L801.8 546.2 L802.1 547.9 L802.4 549.5 L802.7 551.2 L803.0 552.9 L803.3 554.5 L803.5 556.2 L803.8 557.9 L804.1 559.5 L804.3 561.2 L804.5 562.8 L804.8 564.5 L805.0 566.2 L805.2 567.8 L805.4 569.5 L805.6 571.2 L805.8 572.8 L805.9 574.1 L805.9 574.5 L806.1 576.1 L806.3 577.8 L806.4 579.5 L806.6 581.1 L806.7 582.8 L806.9 584.5 L807.0 586.1 L807.2 587.8 L807.3 589.4 L807.4 591.1 L807.5 592.8 L807.7 594.4 L807.8 596.1 L807.9 597.8 L807.9 598.5" fill="none" stroke="rgb(51,72,97)" stroke-opacity="0.65" stroke-width="3" stroke-dasharray="10.86 5.05" stroke-dashoffset="2.19"/>
<path d="M68.5 487.0 L68.5 487.0 L72.4 487.0 L76.4 487.0 L80.3 487.0 L84.3 487.0 L88.2 487.0 L92.2 487.0 L96.1 487.0 L100.1 487.0 L104.0 487.0 L108.0 487.0 L111.9 487.0 L115.9 487.0 L119.8 487.0 L123.8 487.0 L127.7 487.0 L131.7 487.0 L135.6 487.0 L139.6 487.1 L143.6 487.1 L147.5 487.1 L151.5 487.1 L155.4 487.1 L159.4 487.1 L163.3 487.1 L167.3 487.1 L171.2 487.1 L175.2 487.1 L179.1 487.1 L183.1 487.1 L187.0 487.1 L191.0 487.1 L194.9 487.2 L198.9 487.2 L202.8 487.2 L206.8 487.2 L210.7 487.2 L214.7 487.2 L218.6 487.2 L222.6 487.2 L226.6 487.2 L230.5 487.3 L234.5 487.3 L238.4 487.3 L242.4 487.3 L246.3 487.3 L250.3 487.3 L254.2 487.4 L258.2 487.4 L262.1 487.4 L266.1 487.4 L270.0 487.4 L274.0 487.4 L277.9 487.5 L281.9 487.5 L285.8 487.5 L289.8 487.5 L293.7 487.6 L297.7 487.6 L301.7 487.6 L305.6 487.7 L309.6 487.7 L313.5 487.7 L317.5 487.8 L321.4 487.8 L325.4 487.8 L329.3 487.9 L333.3 487.9 L337.2 488.0 L341.2 488.0 L345.1 488.0 L349.1 488.1 L353.0 488.1 L357.0 488.2 L360.9 488.2 L364.5 488.3 L364.9 488.3 L368.8 488.4 L372.8 488.4 L376.7 488.5 L380.7 488.6 L384.7 488.6 L388.6 488.7 L392.6 488.8 L396.5 488.9 L400.5 489.0 L404.4 489.0 L408.4 489.1 L412.3 489.2 L416.3 489.3 L420.2 489.4 L424.2 489.5 L426.7 489.6 L428.1 489.7 L432.1 489.8 L436.0 489.9 L440.0 490.0 L443.9 490.2 L447.9 490.3 L451.8 490.5 L455.8 490.6 L459.7 490.8 L463.1 490.9 L463.7 491.0 L467.7 491.1 L471.6 491.3 L475.6 491.5 L479.5 491.7 L483.5 491.9 L487.4 492.2 L488.6 492.2 L491.4 492.4 L495.3 492.7 L499.3 492.9 L503.2 493.2 L507.2 493.5 L508.3 493.6 L511.1 493.8 L515.1 494.1 L519.0 494.4 L523.0 494.8 L524.1 494.9 L526.9 495.1 L530.9 495.5 L534.8 495.9 L537.3 496.2 L538.8 496.4 L542.8 496.8 L546.7 497.3 L548.6 497.5 L550.7 497.8 L554.6 498.3 L558.5 498.8 L558.6 498.8 L562.5 499.4 L566.5 500.0 L567.1 500.1 L570.4 500.7 L574.4 501.4 L574.9 501.5 L578.3 502.1 L581.9 502.8 L582.3 502.9 L586.2 503.7 L588.2 504.1 L590.2 504.5 L594.0 505.4 L594.1 505.4 L598.1 506.4 L599.3 506.7 L602.0 507.5 L604.1 508.0 L606.0 508.6 L608.7 509.4 L609.9 509.7 L612.9 510.7 L613.9 511.0 L616.8 512.0 L617.8 512.4 L620.4 513.3 L621.8 513.8 L623.9 514.6 L625.8 515.4 L627.1 515.9 L629.7 517.1 L630.1 517.2 L633.0 518.6 L633.7 518.9 L635.7 519.9 L637.6 520.9 L638.3 521.2 L640.0 522.1" fill="none" stroke="rgb(51,72,97)" stroke-opacity="0.65" stroke-width="3" stroke-dasharray="10.86 5.05" stroke-dashoffset="13"/>
<path d="M687.4 580.5 L687.8 581.7 L688.2 583.0 L688.6 584.3 L689.0 585.5 L689.0 585.7 L689.4 587.0 L689.8 588.3 L690.1 589.6 L690.5 590.9 L690.8 592.2 L691.1 593.6 L691.4 594.9 L691.7 596.2 L692.0 597.5 L692.3 598.8 L692.6 600.1 L692.9 601.4 L692.9 601.9 L693.1 602.8 L693.4 604.1 L693.6 605.4 L693.9 606.7 L694.1 608.0 L694.3 609.3 L694.5 610.7 L694.7 612.0 L694.9 613.3 L695.1 614.6 L695.3 615.9 L695.5 617.2 L695.7 618.5 L695.9 619.9 L696.1 621.2 L696.2 622.5 L696.4 623.8 L696.5 625.1 L696.7 626.4 L696.8 627.8 L696.9 628.3 L697.0 629.1 L697.1 630.4 L697.3 631.7 L697.4 633.0 L697.5 634.3 L697.6 635.6 L697.8 637.0 L697.9 638.3 L698.0 639.6 L698.1 640.9 L698.2 642.2 L698.3 643.5 L698.4 644.9 L698.5 646.2 L698.6 647.5 L698.7 648.8 L698.8 650.1 L698.9 651.4 L699.0 652.8 L699.1 654.1 L699.1 655.4 L699.2 656.7 L699.3 658.0 L699.4 659.3 L699.5 660.6 L699.5 662.0 L699.6 663.3 L699.7 664.6 L699.7 665.9 L699.8 667.2 L699.9 668.5 L699.9 669.9 L700.0 671.2 L700.0 672.5 L700.1 673.8 L700.1 675.1 L700.2 676.4 L700.2 677.7 L700.3 679.1 L700.3 680.4 L700.4 681.7 L700.4 683.0 L700.5 684.3 L700.5 685.6 L700.6 687.0 L700.6 688.3 L700.6 689.6 L700.7 690.9 L700.7 692.2 L700.7 693.5 L700.8 694.9 L700.8 696.2 L700.9 697.5" fill="none" stroke="rgb(51,72,97)" stroke-opacity="0.65" stroke-width="3" stroke-dasharray="10.86 5.05" stroke-dashoffset="9.95"/>
<path d="M68.5 542.5 L68.5 542.5 L71.7 542.5 L75.0 542.5 L78.2 542.5 L81.5 542.6 L84.7 542.6 L88.0 542.6 L91.2 542.6 L94.5 542.6 L97.8 542.6 L101.0 542.6 L104.3 542.6 L107.5 542.6 L110.8 542.6 L114.0 542.6 L117.3 542.7 L120.5 542.7 L123.8 542.7 L127.1 542.7 L130.3 542.7 L133.6 542.7 L136.8 542.7 L140.1 542.7 L143.3 542.8 L146.6 542.8 L149.8 542.8 L153.1 542.8 L156.4 542.8 L159.6 542.8 L162.9 542.8 L166.1 542.9 L169.4 542.9 L172.6 542.9 L175.9 542.9 L179.1 542.9 L182.4 543.0 L185.7 543.0 L188.9 543.0 L192.2 543.0 L195.4 543.1 L198.7 543.1 L201.9 543.1 L205.2 543.1 L208.4 543.2 L211.7 543.2 L215.0 543.2 L218.2 543.3 L221.5 543.3 L224.7 543.3 L228.0 543.4 L231.2 543.4 L234.5 543.4 L237.7 543.5 L239.5 543.5 L241.0 543.5 L244.3 543.6 L247.5 543.6 L250.8 543.6 L254.0 543.7 L257.3 543.7 L260.5 543.8 L263.8 543.8 L267.0 543.9 L270.3 543.9 L273.6 544.0 L276.8 544.1 L280.1 544.1 L283.3 544.2 L286.6 544.3 L289.8 544.3 L293.1 544.4 L296.1 544.5 L296.3 544.5 L299.6 544.5 L302.9 544.6 L306.1 544.7 L309.4 544.8 L312.6 544.9 L315.9 545.0 L319.1 545.1 L322.4 545.2 L325.6 545.3 L328.9 545.4 L330.6 545.4 L332.2 545.5 L335.4 545.6 L338.7 545.7 L341.9 545.8 L345.2 546.0 L348.4 546.1 L351.7 546.2 L354.9 546.4 L355.4 546.4 L358.2 546.5 L361.5 546.7 L364.7 546.8 L368.0 547.0 L371.2 547.2 L374.5 547.4 L374.7 547.4 L377.7 547.5 L381.0 547.7 L384.2 547.9 L387.5 548.1 L390.4 548.3 L390.8 548.4 L394.0 548.6 L397.3 548.8 L400.5 549.1 L403.7 549.3 L403.8 549.3 L407.0 549.6 L410.3 549.8 L413.5 550.1 L415.1 550.3 L416.8 550.4 L420.1 550.7 L423.3 551.1 L425.0 551.2 L426.6 551.4 L429.8 551.8 L433.1 552.1 L433.9 552.2 L436.3 552.5 L439.6 552.9 L441.8 553.2 L442.8 553.3 L446.1 553.7 L449.0 554.1 L449.4 554.2 L452.6 554.7 L455.5 555.1 L455.9 555.2 L459.1 555.7 L461.5 556.1 L462.4 556.2 L465.6 556.8 L467.0 557.1 L468.9 557.4 L472.1 558.0 L472.2 558.0 L475.4 558.7 L476.9 559.0 L478.7 559.4 L481.4 560.0 L481.9 560.1 L485.2 560.8 L485.6 560.9 L488.4 561.6 L489.5 561.9 L491.7 562.5 L493.2 562.9 L494.9 563.4 L496.6 563.8 L498.2 564.3 L499.9 564.8 L501.4 565.3 L503.0 565.8 L504.7 566.3 L506.0 566.7 L508.0 567.4 L508.8 567.7 L511.2 568.6 L511.5 568.7 L514.0 569.6 L514.5 569.8 L516.5 570.6 L517.7 571.1 L518.8 571.6 L521.0 572.5 L521.0 572.5 L523.2 573.5 L524.2 574.0 L525.2 574.5 L527.2 575.5 L527.5 575.6 L529.0 576.4 L530.7 577.3 L530.9 577.4 L532.6 578.4 L534.0 579.2 L534.3 579.3 L535.9 580.3 L537.3 581.1 L537.4 581.3 L538.9 582.2 L540.4 583.2 L540.5 583.3 L541.8 584.2 L543.1 585.1 L543.8 585.6 L544.4 586.1 L545.7 587.1 L546.9 588.0 L547.0 588.1 L548.1 589.0 L549.3 590.0 L550.3 590.9 L550.4 590.9 L551.4 591.9 L552.5 592.9 L553.5 593.9 L553.5 593.9 L554.5 594.8 L555.4 595.8 L556.3 596.8 L556.8 597.3 L557.2 597.7 L558.1 598.7 L558.9 599.7 L559.8 600.6 L560.0 601.0 L560.5 601.6 L561.3 602.6 L562.1 603.5 L562.8 604.5 L563.3 605.2 L563.5 605.5 L564.2 606.4 L564.9 607.4 L565.5 608.4 L566.2 609.4 L566.6 609.9 L566.8 610.3 L567.4 611.3 L568.0 612.3 L568.6 613.2 L569.1 614.2 L569.7 615.2 L569.8 615.4 L570.2 616.1 L570.7 617.1 L571.2 618.1 L571.7 619.0 L572.2 620.0 L572.7 621.0 L573.1 621.8 L573.1 621.9 L573.6 622.9 L574.0 623.9 L574.4 624.8 L574.8 625.8 L575.2 626.8 L575.6 627.8 L576.0 628.7 L576.3 629.5 L576.4 629.7 L576.7 630.7 L577.1 631.6 L577.4 632.6 L577.8 633.6 L578.1 634.5 L578.4 635.5 L578.8 636.5 L579.1 637.4 L579.4 638.4 L579.6 639.1 L579.7 639.4 L580.0 640.3 L580.2 641.3 L580.5 642.3 L580.8 643.2 L581.1 644.2 L581.3 645.2 L581.6 646.2 L581.8 647.1 L582.0 648.1 L582.3 649.1 L582.5 650.0 L582.7 651.0 L582.8 651.4 L583.0 652.0 L583.2 652.9 L583.4 653.9 L583.6 654.9 L583.8 655.8 L584.0 656.7" fill="none" stroke="rgb(51,72,97)" stroke-opacity="0.65" stroke-width="3" stroke-dasharray="10.86 5.05" stroke-dashoffset="8.89"/>
<g fill="#708090"><text transform="matrix(0.30507,0,0,0.29007,575.27,51.45)" font-size="100">-</text><text transform="matrix(0.28492,0,0,0.29986,586.39,51.50)" font-size="100">1</text><text transform="matrix(0.30622,0,0,0.32823,603.69,51.50)" font-size="100">.</text><text transform="matrix(0.29832,0,0,0.29986,613.15,51.50)" font-size="100">0</text></g>
<g fill="#708090"><text transform="matrix(0.30507,0,0,0.29008,281.07,162.35)" font-size="100">-</text><text transform="matrix(0.28755,0,0,0.29986,291.88,162.40)" font-size="100">2</text><text transform="matrix(0.30622,0,0,0.32823,309.49,162.40)" font-size="100">.</text><text transform="matrix(0.29832,0,0,0.29986,318.95,162.40)" font-size="100">0</text></g>
<g fill="#708090"><text transform="matrix(0.30507,0,0,0.29008,607.77,273.15)" font-size="100">-</text><text transform="matrix(0.28650,0,0,0.29986,619.02,273.20)" font-size="100">3</text><text transform="matrix(0.30622,0,0,0.32823,636.19,273.20)" font-size="100">.</text><text transform="matrix(0.29832,0,0,0.29986,645.65,273.20)" font-size="100">0</text></g>
<g transform="translate(919.7,565.5) rotate(90)"><g fill="#708090"><text transform="matrix(0.30507,0,0,0.29008,-27.33,10.27)" font-size="100">-</text><text transform="matrix(0.29836,0,0,0.29986,-16.45,10.32)" font-size="100">4</text><text transform="matrix(0.30622,0,0,0.32823,1.09,10.32)" font-size="100">.</text><text transform="matrix(0.29832,0,0,0.29986,10.55,10.32)" font-size="100">0</text></g></g>
<g transform="translate(811.7,638.8) rotate(88)"><g fill="#708090"><text transform="matrix(0.30507,0,0,0.29008,-27.04,10.27)" font-size="100">-</text><text transform="matrix(0.29836,0,0,0.29986,-16.15,10.32)" font-size="100">4</text><text transform="matrix(0.30622,0,0,0.32823,1.38,10.32)" font-size="100">.</text><text transform="matrix(0.28154,0,0,0.29986,11.21,10.32)" font-size="100">5</text></g></g>
<g transform="translate(669.2,543) rotate(50)"><g fill="#708090"><text transform="matrix(0.30507,0,0,0.29008,-27.33,10.27)" font-size="100">-</text><text transform="matrix(0.28154,0,0,0.29986,-16.09,10.32)" font-size="100">5</text><text transform="matrix(0.30622,0,0,0.32823,1.09,10.32)" font-size="100">.</text><text transform="matrix(0.29832,0,0,0.29986,10.55,10.32)" font-size="100">0</text></g></g>
<g transform="translate(592,682) rotate(80)"><g fill="#708090"><text transform="matrix(0.30507,0,0,0.29008,-27.04,10.27)" font-size="100">-</text><text transform="matrix(0.28154,0,0,0.29986,-15.80,10.32)" font-size="100">5</text><text transform="matrix(0.30622,0,0,0.32823,1.38,10.32)" font-size="100">.</text><text transform="matrix(0.28154,0,0,0.29986,11.21,10.32)" font-size="100">5</text></g></g>
<g transform="translate(145.7,355.1) scale(1.0437,1)"><text x="-0.91" y="0" font-size="29.65" fill="#7a0a14" style="font-style:italic;" >D</text></g>
<g transform="translate(167.5,360) scale(1.1028,1)"><text x="-0.94" y="0" font-size="20.64" fill="#7a0a14" style="font-style:italic;" >trans</text></g>
<rect x="225.4" y="341.6" width="18.4" height="2.3" fill="#7a0a14"/><rect x="225.4" y="348.9" width="18.4" height="2.3" fill="#7a0a14"/>
<rect x="259.4" y="344.2" width="19.4" height="2.6" fill="#7a0a14"/>
<g transform="translate(288.5,355.1) scale(1.0272,1)"><text x="-1.13" y="0" font-size="29.65" fill="#7a0a14" style="" >3.5</text></g>
<line x1="669.7" y1="133.2" x2="635.5" y2="133.2" stroke="#000" stroke-width="3.4"/><path d="M642.7 126 L635.5 133.2 L642.7 140.4" fill="none" stroke="#000" stroke-width="3.4" stroke-linejoin="miter" stroke-miterlimit="10"/>
<line x1="571.6" y1="205.8" x2="537.5" y2="205.8" stroke="#000" stroke-width="3.4"/><path d="M544.7 198.6 L537.5 205.8 L544.7 213" fill="none" stroke="#000" stroke-width="3.4" stroke-linejoin="miter" stroke-miterlimit="10"/>
<line x1="865.7" y1="235.2" x2="865.7" y2="263.1" stroke="#000" stroke-width="3.4"/><path d="M858.5 255.9 L865.7 263.1 L872.9 255.9" fill="none" stroke="#000" stroke-width="3.4" stroke-linejoin="miter" stroke-miterlimit="10"/>
<line x1="824.4" y1="283.9" x2="824.4" y2="312.4" stroke="#000" stroke-width="3.4"/><path d="M817.2 305.2 L824.4 312.4 L831.6 305.2" fill="none" stroke="#000" stroke-width="3.4" stroke-linejoin="miter" stroke-miterlimit="10"/>
<line x1="759.1" y1="277.1" x2="759.1" y2="305.6" stroke="#000" stroke-width="3.4"/><path d="M751.9 298.4 L759.1 305.6 L766.3 298.4" fill="none" stroke="#000" stroke-width="3.4" stroke-linejoin="miter" stroke-miterlimit="10"/>
<line x1="883.1" y1="310.2" x2="883.1" y2="338" stroke="#000" stroke-width="3.4"/><path d="M875.9 330.8 L883.1 338 L890.3 330.8" fill="none" stroke="#000" stroke-width="3.4" stroke-linejoin="miter" stroke-miterlimit="10"/>
<line x1="896.3" y1="315.2" x2="896.3" y2="342.6" stroke="#000" stroke-width="3.4"/><path d="M889.1 335.4 L896.3 342.6 L903.5 335.4" fill="none" stroke="#000" stroke-width="3.4" stroke-linejoin="miter" stroke-miterlimit="10"/>
<line x1="739.5" y1="371.5" x2="850.5" y2="438" stroke="#8f00dc" stroke-width="2.0"/>
<line x1="739.5" y1="371.5" x2="739.5" y2="399.3" stroke="#8f00dc" stroke-width="3.4"/><path d="M732.3 392.1 L739.5 399.3 L746.7 392.1" fill="none" stroke="#8f00dc" stroke-width="3.4" stroke-linejoin="miter" stroke-miterlimit="10"/>
<circle cx="739.5" cy="371.5" r="8.4" fill="none" stroke="#8f00dc" stroke-width="2"/>
<line x1="850.7" y1="438" x2="850.7" y2="465.3" stroke="#8f00dc" stroke-width="3.4"/><path d="M843.5 458.1 L850.7 465.3 L857.9 458.1" fill="none" stroke="#8f00dc" stroke-width="3.4" stroke-linejoin="miter" stroke-miterlimit="10"/>
<circle cx="850.5" cy="438" r="12.3" fill="#8f00dc" stroke="#111111" stroke-width="3"/>
<path d="M902.4 394.6 A43.5 43.5 0 0 1 971.2 394.6" fill="none" stroke="#ff8c00" stroke-width="2"/>
<path d="M975.80 372.80 L969.85 362.49 L957.95 362.49 L952.00 372.80 L957.95 383.11 L969.85 383.11 Z" fill="#ff8c00" stroke="#111111" stroke-width="3" stroke-linejoin="miter" stroke-miterlimit="10"/>
<line x1="179.7" y1="216.3" x2="245.2" y2="246.4" stroke="#808080" stroke-width="1.8"/>
<line x1="170.6" y1="216.3" x2="145.5" y2="216.3" stroke="#808080" stroke-width="3.4"/><path d="M152.7 209.1 L145.5 216.3 L152.7 223.5" fill="none" stroke="#808080" stroke-width="3.4" stroke-linejoin="miter" stroke-miterlimit="10"/>
<path d="M179.70 206.25 L171.00 211.28 L171.00 221.33 L179.70 226.35 L188.40 221.33 L188.40 211.28 Z" fill="none" stroke="#808080" stroke-width="1.7" stroke-linejoin="miter" stroke-miterlimit="10"/>
<line x1="245.2" y1="245.9" x2="211.2" y2="245.9" stroke="#808080" stroke-width="3.4"/><path d="M218.4 238.7 L211.2 245.9 L218.4 253.1" fill="none" stroke="#808080" stroke-width="3.4" stroke-linejoin="miter" stroke-miterlimit="10"/>
<path d="M245.20 233.00 L233.42 239.80 L233.42 253.40 L245.20 260.20 L256.98 253.40 L256.98 239.80 Z" fill="#808080" stroke="#111111" stroke-width="3" stroke-linejoin="miter" stroke-miterlimit="10"/>
<line x1="866" y1="461" x2="918.3" y2="388.6" stroke="#cd853f" stroke-width="2.0"/>
<line x1="865.7" y1="461" x2="865.7" y2="487.8" stroke="#cd853f" stroke-width="3.4"/><path d="M858.5 480.6 L865.7 487.8 L872.9 480.6" fill="none" stroke="#cd853f" stroke-width="3.4" stroke-linejoin="miter" stroke-miterlimit="10"/>
<path d="M870.95 451.10 L875.90 456.05 L870.95 461.00 L875.90 465.95 L870.95 470.90 L866.00 465.95 L861.05 470.90 L856.10 465.95 L861.05 461.00 L856.10 456.05 L861.05 451.10 L866.00 456.05 Z" fill="none" stroke="#cd853f" stroke-width="2" stroke-linejoin="miter" stroke-miterlimit="10"/>
<line x1="918.3" y1="388.6" x2="918.3" y2="415.8" stroke="#cd853f" stroke-width="3.4"/><path d="M911.1 408.6 L918.3 415.8 L925.5 408.6" fill="none" stroke="#cd853f" stroke-width="3.4" stroke-linejoin="miter" stroke-miterlimit="10"/>
<path d="M925.61 374.89 L932.91 382.19 L925.61 389.50 L932.91 396.81 L925.61 404.11 L918.30 396.81 L910.99 404.11 L903.69 396.81 L910.99 389.50 L903.69 382.19 L910.99 374.89 L918.30 382.19 Z" fill="#cd853f" stroke="#111111" stroke-width="3" stroke-linejoin="miter" stroke-miterlimit="10"/>
<line x1="854.5" y1="464" x2="911.5" y2="406.5" stroke="#da70d6" stroke-width="2.0"/>
<line x1="854.9" y1="464" x2="854.9" y2="491.8" stroke="#da70d6" stroke-width="3.4"/><path d="M847.7 484.6 L854.9 491.8 L862.1 484.6" fill="none" stroke="#da70d6" stroke-width="3.4" stroke-linejoin="miter" stroke-miterlimit="10"/>
<path d="M854.50 453.00 L865.50 464.00 L854.50 475.00 L843.50 464.00 Z" fill="none" stroke="#da70d6" stroke-width="2" stroke-linejoin="miter" stroke-miterlimit="10"/>
<line x1="911.6" y1="406.5" x2="911.6" y2="434.8" stroke="#da70d6" stroke-width="3.4"/><path d="M904.4 427.6 L911.6 434.8 L918.8 427.6" fill="none" stroke="#da70d6" stroke-width="3.4" stroke-linejoin="miter" stroke-miterlimit="10"/>
<path d="M911.50 389.90 L928.30 406.70 L911.50 423.50 L894.70 406.70 Z" fill="#da70d6" stroke="#111111" stroke-width="3" stroke-linejoin="miter" stroke-miterlimit="10"/>
<line x1="887.4" y1="444.5" x2="928.9" y2="371.3" stroke="#008000" stroke-width="2.0"/>
<path d="M887.40 436.00 L879.10 452.60 L895.70 452.60 Z" fill="none" stroke="#008000" stroke-width="2" stroke-linejoin="miter" stroke-miterlimit="10"/>
<path d="M928.90 358.70 L916.60 383.30 L941.20 383.30 Z" fill="#008000" stroke="#111111" stroke-width="3" stroke-linejoin="miter" stroke-miterlimit="10"/>
<line x1="920.4" y1="501.8" x2="976.8" y2="432" stroke="#0000ff" stroke-width="2.0"/>
<path d="M920.40 509.80 L912.40 493.80 L928.40 493.80 Z" fill="none" stroke="#0000ff" stroke-width="2" stroke-linejoin="miter" stroke-miterlimit="10"/>
<path d="M976.80 445.30 L963.80 419.30 L989.80 419.30 Z" fill="#0000ff" stroke="#111111" stroke-width="3" stroke-linejoin="miter" stroke-miterlimit="10"/>
<line x1="892" y1="432" x2="955.3" y2="401" stroke="#ffa500" stroke-width="2.0"/>
<path d="M892.00 422.50 L882.96 429.06 L886.42 439.69 L897.58 439.69 L901.04 429.06 Z" fill="none" stroke="#ffa500" stroke-width="2" stroke-linejoin="miter" stroke-miterlimit="10"/>
<path d="M955.30 387.20 L942.37 396.60 L947.31 411.80 L963.29 411.80 L968.23 396.60 Z" fill="#ffa500" stroke="#111111" stroke-width="3" stroke-linejoin="miter" stroke-miterlimit="10"/>
<path d="M780.80 451.90 L777.21 462.96 L765.58 462.96 L774.99 469.79 L771.40 480.84 L780.80 474.01 L790.20 480.84 L786.61 469.79 L796.02 462.96 L784.39 462.96 Z" fill="#ffffff" stroke="#ff0000" stroke-width="2" stroke-linejoin="miter" stroke-miterlimit="10"/>
<line x1="780.8" y1="467.9" x2="828.6" y2="456.1" stroke="#ff0000" stroke-width="2.0"/>
<line x1="780.8" y1="467.9" x2="780.8" y2="496.2" stroke="#ff0000" stroke-width="3.4"/><path d="M773.6 489 L780.8 496.2 L788 489" fill="none" stroke="#ff0000" stroke-width="3.4" stroke-linejoin="miter" stroke-miterlimit="10"/>
<line x1="828.6" y1="456.1" x2="828.6" y2="484.1" stroke="#ff0000" stroke-width="3.4"/><path d="M821.4 476.9 L828.6 484.1 L835.8 476.9" fill="none" stroke="#ff0000" stroke-width="3.4" stroke-linejoin="miter" stroke-miterlimit="10"/>
<path d="M828.60 433.00 L823.30 449.31 L806.16 449.31 L820.03 459.39 L814.73 475.69 L828.60 465.61 L842.47 475.69 L837.17 459.39 L851.04 449.31 L833.90 449.31 Z" fill="#ff0000" stroke="#111111" stroke-width="3" stroke-linejoin="miter" stroke-miterlimit="10"/>
</g>
<line x1="133.77" y1="675.3" x2="133.77" y2="657.3" stroke="#262626" stroke-width="3.6"/>
<line x1="242.64" y1="675.3" x2="242.64" y2="657.3" stroke="#262626" stroke-width="3.6"/>
<line x1="351.5" y1="675.3" x2="351.5" y2="657.3" stroke="#262626" stroke-width="3.6"/>
<line x1="460.37" y1="675.3" x2="460.37" y2="657.3" stroke="#262626" stroke-width="3.6"/>
<line x1="569.23" y1="675.3" x2="569.23" y2="657.3" stroke="#262626" stroke-width="3.6"/>
<line x1="678.1" y1="675.3" x2="678.1" y2="657.3" stroke="#262626" stroke-width="3.6"/>
<line x1="786.96" y1="675.3" x2="786.96" y2="657.3" stroke="#262626" stroke-width="3.6"/>
<line x1="895.83" y1="675.3" x2="895.83" y2="657.3" stroke="#262626" stroke-width="3.6"/>
<line x1="1004.69" y1="675.3" x2="1004.69" y2="657.3" stroke="#262626" stroke-width="3.6"/>
<line x1="112" y1="65.81" x2="130" y2="65.81" stroke="#262626" stroke-width="3.6"/>
<line x1="112" y1="176.63" x2="130" y2="176.63" stroke="#262626" stroke-width="3.6"/>
<line x1="112" y1="287.45" x2="130" y2="287.45" stroke="#262626" stroke-width="3.6"/>
<line x1="112" y1="398.27" x2="130" y2="398.27" stroke="#262626" stroke-width="3.6"/>
<line x1="112" y1="509.09" x2="130" y2="509.09" stroke="#262626" stroke-width="3.6"/>
<line x1="112" y1="619.91" x2="130" y2="619.91" stroke="#262626" stroke-width="3.6"/>
<rect x="124.4" y="451.4" width="514.1" height="211.9" rx="4.5" ry="4.5" fill="#ffffff" fill-opacity="0.8" stroke="#d6d6d6" stroke-width="2.7"/>
<circle cx="158" cy="472.8" r="12.3" fill="#8f00dc" stroke="#111111" stroke-width="3"/>
<path d="M169.60 515.10 L163.80 505.05 L152.20 505.05 L146.40 515.10 L152.20 525.15 L163.80 525.15 Z" fill="#ff8c00" stroke="#111111" stroke-width="3" stroke-linejoin="miter" stroke-miterlimit="10"/>
<path d="M158.00 544.50 L146.66 551.05 L146.66 564.15 L158.00 570.70 L169.34 564.15 L169.34 551.05 Z" fill="#808080" stroke="#111111" stroke-width="3" stroke-linejoin="miter" stroke-miterlimit="10"/>
<path d="M165.34 584.82 L172.88 592.36 L165.34 599.90 L172.88 607.44 L165.34 614.98 L157.80 607.44 L150.26 614.98 L142.72 607.44 L150.26 599.90 L142.72 592.36 L150.26 584.82 L157.80 592.36 Z" fill="#cd853f" stroke="#111111" stroke-width="3" stroke-linejoin="miter" stroke-miterlimit="10"/>
<path d="M157.80 626.70 L174.10 643.00 L157.80 659.30 L141.50 643.00 Z" fill="#da70d6" stroke="#111111" stroke-width="3" stroke-linejoin="miter" stroke-miterlimit="10"/>
<path d="M422.60 459.50 L409.30 486.10 L435.90 486.10 Z" fill="#008000" stroke="#111111" stroke-width="3" stroke-linejoin="miter" stroke-miterlimit="10"/>
<path d="M422.60 527.90 L409.30 501.30 L435.90 501.30 Z" fill="#0000ff" stroke="#111111" stroke-width="3" stroke-linejoin="miter" stroke-miterlimit="10"/>
<path d="M422.60 543.70 L409.67 553.10 L414.61 568.30 L430.59 568.30 L435.53 553.10 Z" fill="#ffa500" stroke="#111111" stroke-width="3" stroke-linejoin="miter" stroke-miterlimit="10"/>
<path d="M422.60 576.60 L417.35 592.77 L400.35 592.77 L414.10 602.76 L408.85 618.93 L422.60 608.94 L436.35 618.93 L431.10 602.76 L444.85 592.77 L427.85 592.77 Z" fill="#ff0000" stroke="#111111" stroke-width="3" stroke-linejoin="miter" stroke-miterlimit="10"/>
<g fill="#262626"><text transform="matrix(0.14543,0,0,0.31961,200.57,484.09)" font-size="100">J</text><text transform="matrix(0.24163,0,0,0.25430,209.92,479.60)" font-size="100">1</text><text transform="matrix(0.25299,0,0,0.25430,224.98,479.60)" font-size="100">0</text><text transform="matrix(0.24386,0,0,0.25430,240.19,479.60)" font-size="100">2</text><text transform="matrix(0.26131,0,0,0.25430,255.22,479.60)" font-size="100">9</text><text transform="matrix(0.30923,0,0,0.30754,271.23,482.30)" font-size="100">+</text><text transform="matrix(0.24163,0,0,0.25430,291.10,479.60)" font-size="100">1</text><text transform="matrix(0.24748,0,0,0.25430,306.28,479.60)" font-size="100">7</text><text transform="matrix(0.24386,0,0,0.25430,321.38,479.60)" font-size="100">2</text><text transform="matrix(0.26131,0,0,0.25430,336.40,479.60)" font-size="100">9</text></g>
<g fill="#262626"><text transform="matrix(0.14543,0,0,0.31961,200.57,525.69)" font-size="100">J</text><text transform="matrix(0.24163,0,0,0.25430,209.92,521.20)" font-size="100">1</text><text transform="matrix(0.25573,0,0,0.25430,224.91,521.20)" font-size="100">8</text><text transform="matrix(0.24163,0,0,0.25430,240.46,521.20)" font-size="100">1</text><text transform="matrix(0.26184,0,0,0.25430,255.28,521.20)" font-size="100">6</text><text transform="matrix(0.25872,0,0,0.24600,270.22,521.16)" font-size="100">-</text><text transform="matrix(0.24297,0,0,0.25430,279.76,521.20)" font-size="100">3</text><text transform="matrix(0.24297,0,0,0.25430,295.03,521.20)" font-size="100">3</text><text transform="matrix(0.24297,0,0,0.25430,310.30,521.20)" font-size="100">3</text><text transform="matrix(0.24386,0,0,0.25430,325.20,521.20)" font-size="100">2</text></g>
<g fill="#262626"><text transform="matrix(0.14543,0,0,0.31961,200.57,568.19)" font-size="100">J</text><text transform="matrix(0.25299,0,0,0.25430,209.71,563.70)" font-size="100">0</text><text transform="matrix(0.24297,0,0,0.25430,225.29,563.70)" font-size="100">3</text><text transform="matrix(0.24163,0,0,0.25430,240.46,563.70)" font-size="100">1</text><text transform="matrix(0.24297,0,0,0.25430,255.83,563.70)" font-size="100">3</text><text transform="matrix(0.25872,0,0,0.24600,270.22,563.66)" font-size="100">-</text><text transform="matrix(0.26184,0,0,0.25430,279.20,563.70)" font-size="100">6</text><text transform="matrix(0.24748,0,0,0.25430,294.83,563.70)" font-size="100">7</text><text transform="matrix(0.25299,0,0,0.25430,309.99,563.70)" font-size="100">0</text><text transform="matrix(0.25573,0,0,0.25430,325.18,563.70)" font-size="100">8</text></g>
<g fill="#262626"><text transform="matrix(0.24691,0,0,0.25430,199.97,606.50)" font-size="100">L</text><text transform="matrix(0.23930,0,0,0.25430,213.41,606.50)" font-size="100">M</text><text transform="matrix(0.22279,0,0,0.25430,233.94,606.50)" font-size="100">C</text><text transform="matrix(0.24163,0,0,0.25430,258.91,606.50)" font-size="100">1</text><text transform="matrix(0.24163,0,0,0.25430,274.18,606.50)" font-size="100">1</text><text transform="matrix(0.26131,0,0,0.25430,288.94,606.50)" font-size="100">9</text></g>
<g fill="#262626"><text transform="matrix(0.22279,0,0,0.25430,200.87,648.80)" font-size="100">C</text><text transform="matrix(0.24831,0,0,0.25430,217.73,648.80)" font-size="100">D</text><text transform="matrix(0.25872,0,0,0.24600,235.91,648.76)" font-size="100">-</text><text transform="matrix(0.24297,0,0,0.25430,245.45,648.80)" font-size="100">3</text><text transform="matrix(0.25573,0,0,0.25430,260.34,648.80)" font-size="100">8</text><text transform="matrix(0.24386,0,0,0.25430,283.25,648.80)" font-size="100">2</text><text transform="matrix(0.25302,0,0,0.25430,298.58,648.80)" font-size="100">4</text><text transform="matrix(0.23876,0,0,0.25430,314.15,648.80)" font-size="100">5</text></g>
<g fill="#262626"><text transform="matrix(0.21394,0,0,0.25430,465.23,479.30)" font-size="100">S</text><text transform="matrix(0.24082,0,0,0.25430,480.15,479.30)" font-size="100">c</text><text transform="matrix(0.24533,0,0,0.25430,493.66,479.30)" font-size="100">l</text><text transform="matrix(0.25299,0,0,0.25430,500.31,479.30)" font-size="100">0</text><text transform="matrix(0.24748,0,0,0.25430,515.69,479.30)" font-size="100">7</text><text transform="matrix(0.25872,0,0,0.24600,530.28,479.26)" font-size="100">-</text><text transform="matrix(0.23876,0,0,0.25430,539.81,479.30)" font-size="100">5</text><text transform="matrix(0.25299,0,0,0.25430,554.78,479.30)" font-size="100">0</text></g>
<g fill="#262626"><text transform="matrix(0.24177,0,0,0.25430,466.15,522.00)" font-size="100">A</text><text transform="matrix(0.21394,0,0,0.25430,483.04,522.00)" font-size="100">S</text><text transform="matrix(0.25299,0,0,0.25430,498.26,522.00)" font-size="100">0</text><text transform="matrix(0.25299,0,0,0.25430,513.53,522.00)" font-size="100">0</text><text transform="matrix(0.24297,0,0,0.25430,529.11,522.00)" font-size="100">3</text><text transform="matrix(0.26131,0,0,0.25430,543.76,522.00)" font-size="100">9</text></g>
<g fill="#262626"><text transform="matrix(0.22279,0,0,0.25430,465.07,564.20)" font-size="100">C</text><text transform="matrix(0.21394,0,0,0.25430,482.22,564.20)" font-size="100">S</text><text transform="matrix(0.24297,0,0,0.25430,497.75,564.20)" font-size="100">3</text><text transform="matrix(0.25299,0,0,0.25430,512.71,564.20)" font-size="100">0</text><text transform="matrix(0.24297,0,0,0.25430,528.29,564.20)" font-size="100">3</text><text transform="matrix(0.24297,0,0,0.25430,543.56,564.20)" font-size="100">3</text><text transform="matrix(0.26184,0,0,0.25430,558.27,564.20)" font-size="100">6</text><text transform="matrix(0.25872,0,0,0.24600,573.21,564.16)" font-size="100">-</text><text transform="matrix(0.25299,0,0,0.25430,582.45,564.20)" font-size="100">0</text><text transform="matrix(0.25302,0,0,0.25430,597.71,564.20)" font-size="100">4</text><text transform="matrix(0.26131,0,0,0.25430,612.68,564.20)" font-size="100">9</text></g>
<g fill="#262626"><text transform="matrix(0.14543,0,0,0.31961,464.77,610.29)" font-size="100">J</text><text transform="matrix(0.25299,0,0,0.25430,473.91,605.80)" font-size="100">0</text><text transform="matrix(0.24748,0,0,0.25430,489.29,605.80)" font-size="100">7</text><text transform="matrix(0.24163,0,0,0.25430,504.66,605.80)" font-size="100">1</text><text transform="matrix(0.23876,0,0,0.25430,520.02,605.80)" font-size="100">5</text><text transform="matrix(0.25872,0,0,0.24600,534.42,605.76)" font-size="100">-</text><text transform="matrix(0.24748,0,0,0.25430,543.76,605.80)" font-size="100">7</text><text transform="matrix(0.24297,0,0,0.25430,559.23,605.80)" font-size="100">3</text><text transform="matrix(0.24297,0,0,0.25430,574.50,605.80)" font-size="100">3</text><text transform="matrix(0.25302,0,0,0.25430,589.46,605.80)" font-size="100">4</text></g>
<rect x="112" y="10.4" width="892.7" height="664.9" fill="none" stroke="#262626" stroke-width="3.7" stroke-linejoin="miter"/>
<g fill="#262626"><text transform="matrix(0.42519,0,0,0.38425,95.30,710.43)" font-size="100">−</text><text transform="matrix(0.34028,0,0,0.34967,122.51,708.00)" font-size="100">7</text><text transform="matrix(0.35708,0,0,0.38274,142.82,708.00)" font-size="100">.</text><text transform="matrix(0.32830,0,0,0.34967,154.27,708.00)" font-size="100">5</text></g>
<g fill="#262626"><text transform="matrix(0.42519,0,0,0.38425,203.82,710.43)" font-size="100">−</text><text transform="matrix(0.34028,0,0,0.34967,231.03,708.00)" font-size="100">7</text><text transform="matrix(0.35708,0,0,0.38274,251.33,708.00)" font-size="100">.</text><text transform="matrix(0.34787,0,0,0.34967,262.37,708.00)" font-size="100">0</text></g>
<g fill="#262626"><text transform="matrix(0.42519,0,0,0.38425,313.03,710.43)" font-size="100">−</text><text transform="matrix(0.36003,0,0,0.34967,339.76,708.00)" font-size="100">6</text><text transform="matrix(0.35708,0,0,0.38274,360.55,708.00)" font-size="100">.</text><text transform="matrix(0.32830,0,0,0.34967,372.00,708.00)" font-size="100">5</text></g>
<g fill="#262626"><text transform="matrix(0.42519,0,0,0.38425,421.55,710.43)" font-size="100">−</text><text transform="matrix(0.36003,0,0,0.34967,448.28,708.00)" font-size="100">6</text><text transform="matrix(0.35708,0,0,0.38274,469.06,708.00)" font-size="100">.</text><text transform="matrix(0.34787,0,0,0.34967,480.10,708.00)" font-size="100">0</text></g>
<g fill="#262626"><text transform="matrix(0.42519,0,0,0.38425,530.76,710.43)" font-size="100">−</text><text transform="matrix(0.32830,0,0,0.34967,558.24,708.00)" font-size="100">5</text><text transform="matrix(0.35708,0,0,0.38274,578.28,708.00)" font-size="100">.</text><text transform="matrix(0.32830,0,0,0.34967,589.73,708.00)" font-size="100">5</text></g>
<g fill="#262626"><text transform="matrix(0.42519,0,0,0.38425,639.28,710.43)" font-size="100">−</text><text transform="matrix(0.32830,0,0,0.34967,666.76,708.00)" font-size="100">5</text><text transform="matrix(0.35708,0,0,0.38274,686.79,708.00)" font-size="100">.</text><text transform="matrix(0.34787,0,0,0.34967,697.83,708.00)" font-size="100">0</text></g>
<g fill="#262626"><text transform="matrix(0.42519,0,0,0.38425,748.49,710.43)" font-size="100">−</text><text transform="matrix(0.34791,0,0,0.34967,775.55,708.00)" font-size="100">4</text><text transform="matrix(0.35708,0,0,0.38274,796.01,708.00)" font-size="100">.</text><text transform="matrix(0.32830,0,0,0.34967,807.46,708.00)" font-size="100">5</text></g>
<g fill="#262626"><text transform="matrix(0.42519,0,0,0.38425,857.01,710.43)" font-size="100">−</text><text transform="matrix(0.34791,0,0,0.34967,884.07,708.00)" font-size="100">4</text><text transform="matrix(0.35708,0,0,0.38274,904.52,708.00)" font-size="100">.</text><text transform="matrix(0.34787,0,0,0.34967,915.56,708.00)" font-size="100">0</text></g>
<g fill="#262626"><text transform="matrix(0.42519,0,0,0.38425,966.22,710.43)" font-size="100">−</text><text transform="matrix(0.33408,0,0,0.34967,993.71,708.00)" font-size="100">3</text><text transform="matrix(0.35708,0,0,0.38274,1013.74,708.00)" font-size="100">.</text><text transform="matrix(0.32830,0,0,0.34967,1025.19,708.00)" font-size="100">5</text></g>
<g fill="#262626"><text transform="matrix(0.42519,0,0,0.38425,58.80,80.57)" font-size="100">−</text><text transform="matrix(0.33224,0,0,0.34967,86.14,78.14)" font-size="100">1</text></g>
<g fill="#262626"><text transform="matrix(0.42519,0,0,0.38425,59.06,191.39)" font-size="100">−</text><text transform="matrix(0.33531,0,0,0.34967,86.04,188.96)" font-size="100">2</text></g>
<g fill="#262626"><text transform="matrix(0.42519,0,0,0.38425,58.40,302.21)" font-size="100">−</text><text transform="matrix(0.33408,0,0,0.34967,85.89,299.78)" font-size="100">3</text></g>
<g fill="#262626"><text transform="matrix(0.42519,0,0,0.38425,57.61,413.03)" font-size="100">−</text><text transform="matrix(0.34791,0,0,0.34967,84.67,410.60)" font-size="100">4</text></g>
<g fill="#262626"><text transform="matrix(0.42519,0,0,0.38425,58.64,523.85)" font-size="100">−</text><text transform="matrix(0.32830,0,0,0.34967,86.12,521.42)" font-size="100">5</text></g>
<g fill="#262626"><text transform="matrix(0.42519,0,0,0.38425,57.83,634.67)" font-size="100">−</text><text transform="matrix(0.36003,0,0,0.34967,84.56,632.24)" font-size="100">6</text></g>
<g fill="#262626"><text transform="matrix(0.37504,0,0,0.34435,504.95,747.60)" font-size="100">[</text><text transform="matrix(0.30857,0,0,0.38145,519.57,750.00)" font-size="100">F</text><text transform="matrix(0.38884,0,0,0.38145,539.61,750.00)" font-size="100">e</text><text transform="matrix(0.43656,0,0,0.40285,561.43,752.95)" font-size="100">/</text><text transform="matrix(0.35811,0,0,0.38145,574.15,750.00)" font-size="100">H</text><text transform="matrix(0.37504,0,0,0.34435,603.83,747.60)" font-size="100">]</text></g>
<g transform="translate(41.0,343.0) rotate(-90)"><g fill="#262626"><text transform="matrix(0.37504,0,0,0.34435,-45.79,-2.40)" font-size="100">[</text><text transform="matrix(0.33419,0,0,0.38145,-31.84,0.00)" font-size="100">C</text><text transform="matrix(0.43656,0,0,0.40285,-7.03,2.95)" font-size="100">/</text><text transform="matrix(0.35811,0,0,0.38145,5.69,0.00)" font-size="100">H</text><text transform="matrix(0.37504,0,0,0.34435,35.37,-2.40)" font-size="100">]</text></g></g>
</svg>
</body></html>
